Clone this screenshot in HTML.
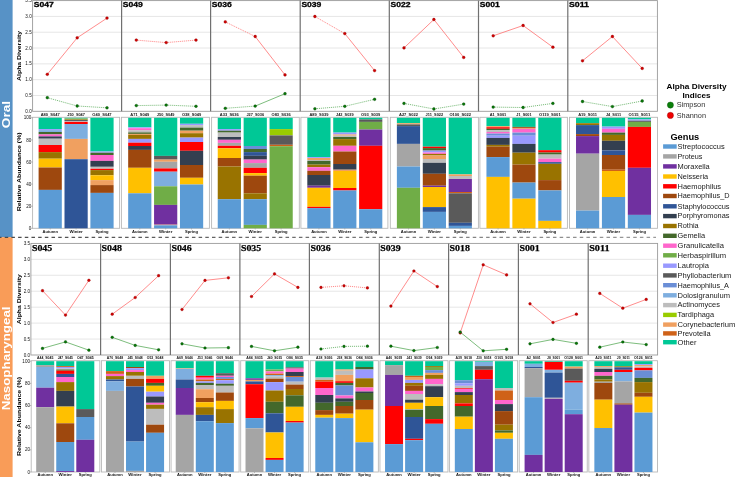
<!DOCTYPE html>
<html><head><meta charset="utf-8"><style>
html,body{margin:0;padding:0;background:#fff;width:735px;height:477px;overflow:hidden}
svg{display:block;font-family:"Liberation Sans", sans-serif;will-change:transform}
</style></head><body>
<svg width="735" height="477" viewBox="0 0 735 477">
<rect width="735" height="477" fill="#fff"/>
<rect x="0" y="0" width="12.6" height="237.2" fill="#5792C6"/>
<rect x="0" y="237.2" width="12.6" height="239.8" fill="#F99C58"/>
<text transform="translate(10.0,114.5) rotate(-90)" font-size="11.6" font-weight="bold" fill="#fff" text-anchor="middle" textLength="27.29" lengthAdjust="spacingAndGlyphs">Oral</text>
<text transform="translate(10.0,358.4) rotate(-90)" font-size="11.6" font-weight="bold" fill="#fff" text-anchor="middle" textLength="103.78" lengthAdjust="spacingAndGlyphs">Nasopharyngeal</text>
<defs><linearGradient id="dg" gradientUnits="userSpaceOnUse" x1="0" y1="0" x2="656" y2="0"><stop offset="0" stop-color="#4a4a4a"/><stop offset="1" stop-color="#9a9a9a"/></linearGradient></defs>
<rect x="0" y="236.85" width="656" height="1.1" fill="none"/>
<line x1="0" y1="237.4" x2="656" y2="237.4" stroke="url(#dg)" stroke-width="1.1" stroke-dasharray="3.5 3.186" stroke-dashoffset="1.958"/>
<line x1="32.6" y1="16.41" x2="657.4" y2="16.41" stroke="#E3E3E3" stroke-width="0.9"/>
<line x1="32.6" y1="32.23" x2="657.4" y2="32.23" stroke="#E3E3E3" stroke-width="0.9"/>
<line x1="32.6" y1="48.04" x2="657.4" y2="48.04" stroke="#E3E3E3" stroke-width="0.9"/>
<line x1="32.6" y1="63.86" x2="657.4" y2="63.86" stroke="#E3E3E3" stroke-width="0.9"/>
<line x1="32.6" y1="79.67" x2="657.4" y2="79.67" stroke="#E3E3E3" stroke-width="0.9"/>
<line x1="32.6" y1="95.49" x2="657.4" y2="95.49" stroke="#E3E3E3" stroke-width="0.9"/>
<text x="31.7" y="112.9" font-size="4.6" text-anchor="end" fill="#111" textLength="6.36" lengthAdjust="spacingAndGlyphs">0.0</text>
<text x="31.7" y="97.09" font-size="4.6" text-anchor="end" fill="#111" textLength="6.36" lengthAdjust="spacingAndGlyphs">0.5</text>
<text x="31.7" y="81.27" font-size="4.6" text-anchor="end" fill="#111" textLength="6.36" lengthAdjust="spacingAndGlyphs">1.0</text>
<text x="31.7" y="65.46" font-size="4.6" text-anchor="end" fill="#111" textLength="6.36" lengthAdjust="spacingAndGlyphs">1.5</text>
<text x="31.7" y="49.64" font-size="4.6" text-anchor="end" fill="#111" textLength="6.36" lengthAdjust="spacingAndGlyphs">2.0</text>
<text x="31.7" y="33.83" font-size="4.6" text-anchor="end" fill="#111" textLength="6.36" lengthAdjust="spacingAndGlyphs">2.5</text>
<text x="31.7" y="18.01" font-size="4.6" text-anchor="end" fill="#111" textLength="6.36" lengthAdjust="spacingAndGlyphs">3.0</text>
<text x="31.7" y="2.2" font-size="4.6" text-anchor="end" fill="#111" textLength="6.36" lengthAdjust="spacingAndGlyphs">3.5</text>
<rect x="32.6" y="0.6" width="624.8" height="110.7" fill="none" stroke="#9a9a9a" stroke-width="0.9"/>
<line x1="121.6" y1="0.6" x2="121.6" y2="111.3" stroke="#707070" stroke-width="1.2"/>
<line x1="210.6" y1="0.6" x2="210.6" y2="111.3" stroke="#707070" stroke-width="1.2"/>
<line x1="300.2" y1="0.6" x2="300.2" y2="111.3" stroke="#707070" stroke-width="1.2"/>
<line x1="389.3" y1="0.6" x2="389.3" y2="111.3" stroke="#707070" stroke-width="1.2"/>
<line x1="478.5" y1="0.6" x2="478.5" y2="111.3" stroke="#707070" stroke-width="1.2"/>
<line x1="567.8" y1="0.6" x2="567.8" y2="111.3" stroke="#707070" stroke-width="1.2"/>
<text transform="translate(21.3,55.9) rotate(-90)" font-size="6.2" font-weight="bold" fill="#000" text-anchor="middle" textLength="50" lengthAdjust="spacingAndGlyphs">Alpha Diversity</text>
<line x1="47.3" y1="97.7" x2="77.2" y2="106" stroke="#45A045" stroke-width="0.7" stroke-dasharray="1.1 0.9"/>
<line x1="77.2" y1="106" x2="107" y2="107.8" stroke="#45A045" stroke-width="0.7" stroke-dasharray="1.1 0.9"/>
<line x1="47.3" y1="74.3" x2="77.2" y2="37.8" stroke="#FF5C5C" stroke-width="0.7"/>
<line x1="77.2" y1="37.8" x2="107" y2="18.1" stroke="#FF5C5C" stroke-width="0.7"/>
<circle cx="47.3" cy="74.3" r="1.4" fill="#D00000" stroke="#8a0000" stroke-width="0.35"/>
<circle cx="77.2" cy="37.8" r="1.4" fill="#D00000" stroke="#8a0000" stroke-width="0.35"/>
<circle cx="107" cy="18.1" r="1.4" fill="#D00000" stroke="#8a0000" stroke-width="0.35"/>
<circle cx="47.3" cy="97.7" r="1.4" fill="#087808" stroke="#034003" stroke-width="0.35"/>
<circle cx="77.2" cy="106" r="1.4" fill="#087808" stroke="#034003" stroke-width="0.35"/>
<circle cx="107" cy="107.8" r="1.4" fill="#087808" stroke="#034003" stroke-width="0.35"/>
<text x="33.8" y="7.3" font-size="7.48" font-weight="bold" text-anchor="start" fill="#000" textLength="19.99" lengthAdjust="spacingAndGlyphs" stroke="#000" stroke-width="0.3">S047</text>
<line x1="136.3" y1="105.6" x2="166.2" y2="105.1" stroke="#45A045" stroke-width="0.7" stroke-dasharray="1.1 0.9"/>
<line x1="166.2" y1="105.1" x2="196" y2="106.3" stroke="#45A045" stroke-width="0.7" stroke-dasharray="1.1 0.9"/>
<line x1="136.3" y1="40.1" x2="166.2" y2="42.6" stroke="#FF5C5C" stroke-width="0.7" stroke-dasharray="1.1 0.9"/>
<line x1="166.2" y1="42.6" x2="196" y2="40.1" stroke="#FF5C5C" stroke-width="0.7" stroke-dasharray="1.1 0.9"/>
<circle cx="136.3" cy="40.1" r="1.4" fill="#D00000" stroke="#8a0000" stroke-width="0.35"/>
<circle cx="166.2" cy="42.6" r="1.4" fill="#D00000" stroke="#8a0000" stroke-width="0.35"/>
<circle cx="196" cy="40.1" r="1.4" fill="#D00000" stroke="#8a0000" stroke-width="0.35"/>
<circle cx="136.3" cy="105.6" r="1.4" fill="#087808" stroke="#034003" stroke-width="0.35"/>
<circle cx="166.2" cy="105.1" r="1.4" fill="#087808" stroke="#034003" stroke-width="0.35"/>
<circle cx="196" cy="106.3" r="1.4" fill="#087808" stroke="#034003" stroke-width="0.35"/>
<text x="122.8" y="7.3" font-size="7.48" font-weight="bold" text-anchor="start" fill="#000" textLength="19.99" lengthAdjust="spacingAndGlyphs" stroke="#000" stroke-width="0.3">S049</text>
<line x1="225.3" y1="108.3" x2="255.2" y2="106.1" stroke="#45A045" stroke-width="0.7" stroke-dasharray="1.1 0.9"/>
<line x1="255.2" y1="106.1" x2="285" y2="93.7" stroke="#45A045" stroke-width="0.7"/>
<line x1="225.3" y1="21.9" x2="255.2" y2="36.5" stroke="#FF5C5C" stroke-width="0.7" stroke-dasharray="1.1 0.9"/>
<line x1="255.2" y1="36.5" x2="285" y2="74.9" stroke="#FF5C5C" stroke-width="0.7"/>
<circle cx="225.3" cy="21.9" r="1.4" fill="#D00000" stroke="#8a0000" stroke-width="0.35"/>
<circle cx="255.2" cy="36.5" r="1.4" fill="#D00000" stroke="#8a0000" stroke-width="0.35"/>
<circle cx="285" cy="74.9" r="1.4" fill="#D00000" stroke="#8a0000" stroke-width="0.35"/>
<circle cx="225.3" cy="108.3" r="1.4" fill="#087808" stroke="#034003" stroke-width="0.35"/>
<circle cx="255.2" cy="106.1" r="1.4" fill="#087808" stroke="#034003" stroke-width="0.35"/>
<circle cx="285" cy="93.7" r="1.4" fill="#087808" stroke="#034003" stroke-width="0.35"/>
<text x="211.8" y="7.3" font-size="7.48" font-weight="bold" text-anchor="start" fill="#000" textLength="19.99" lengthAdjust="spacingAndGlyphs" stroke="#000" stroke-width="0.3">S036</text>
<line x1="314.9" y1="108.8" x2="344.8" y2="106.3" stroke="#45A045" stroke-width="0.7" stroke-dasharray="1.1 0.9"/>
<line x1="344.8" y1="106.3" x2="374.6" y2="99.3" stroke="#45A045" stroke-width="0.7" stroke-dasharray="1.1 0.9"/>
<line x1="314.9" y1="16.5" x2="344.8" y2="33.6" stroke="#FF5C5C" stroke-width="0.7" stroke-dasharray="1.1 0.9"/>
<line x1="344.8" y1="33.6" x2="374.6" y2="70.6" stroke="#FF5C5C" stroke-width="0.7"/>
<circle cx="314.9" cy="16.5" r="1.4" fill="#D00000" stroke="#8a0000" stroke-width="0.35"/>
<circle cx="344.8" cy="33.6" r="1.4" fill="#D00000" stroke="#8a0000" stroke-width="0.35"/>
<circle cx="374.6" cy="70.6" r="1.4" fill="#D00000" stroke="#8a0000" stroke-width="0.35"/>
<circle cx="314.9" cy="108.8" r="1.4" fill="#087808" stroke="#034003" stroke-width="0.35"/>
<circle cx="344.8" cy="106.3" r="1.4" fill="#087808" stroke="#034003" stroke-width="0.35"/>
<circle cx="374.6" cy="99.3" r="1.4" fill="#087808" stroke="#034003" stroke-width="0.35"/>
<text x="301.4" y="7.3" font-size="7.48" font-weight="bold" text-anchor="start" fill="#000" textLength="19.99" lengthAdjust="spacingAndGlyphs" stroke="#000" stroke-width="0.3">S039</text>
<line x1="404" y1="103.4" x2="433.9" y2="109" stroke="#45A045" stroke-width="0.7" stroke-dasharray="1.1 0.9"/>
<line x1="433.9" y1="109" x2="463.7" y2="104.1" stroke="#45A045" stroke-width="0.7" stroke-dasharray="1.1 0.9"/>
<line x1="404" y1="47.9" x2="433.9" y2="19.5" stroke="#FF5C5C" stroke-width="0.7"/>
<line x1="433.9" y1="19.5" x2="463.7" y2="57.4" stroke="#FF5C5C" stroke-width="0.7"/>
<circle cx="404" cy="47.9" r="1.4" fill="#D00000" stroke="#8a0000" stroke-width="0.35"/>
<circle cx="433.9" cy="19.5" r="1.4" fill="#D00000" stroke="#8a0000" stroke-width="0.35"/>
<circle cx="463.7" cy="57.4" r="1.4" fill="#D00000" stroke="#8a0000" stroke-width="0.35"/>
<circle cx="404" cy="103.4" r="1.4" fill="#087808" stroke="#034003" stroke-width="0.35"/>
<circle cx="433.9" cy="109" r="1.4" fill="#087808" stroke="#034003" stroke-width="0.35"/>
<circle cx="463.7" cy="104.1" r="1.4" fill="#087808" stroke="#034003" stroke-width="0.35"/>
<text x="390.5" y="7.3" font-size="7.48" font-weight="bold" text-anchor="start" fill="#000" textLength="19.99" lengthAdjust="spacingAndGlyphs" stroke="#000" stroke-width="0.3">S022</text>
<line x1="493.2" y1="107.1" x2="523.1" y2="107.5" stroke="#45A045" stroke-width="0.7" stroke-dasharray="1.1 0.9"/>
<line x1="523.1" y1="107.5" x2="552.9" y2="103.4" stroke="#45A045" stroke-width="0.7" stroke-dasharray="1.1 0.9"/>
<line x1="493.2" y1="35.8" x2="523.1" y2="25.5" stroke="#FF5C5C" stroke-width="0.7"/>
<line x1="523.1" y1="25.5" x2="552.9" y2="47.2" stroke="#FF5C5C" stroke-width="0.7"/>
<circle cx="493.2" cy="35.8" r="1.4" fill="#D00000" stroke="#8a0000" stroke-width="0.35"/>
<circle cx="523.1" cy="25.5" r="1.4" fill="#D00000" stroke="#8a0000" stroke-width="0.35"/>
<circle cx="552.9" cy="47.2" r="1.4" fill="#D00000" stroke="#8a0000" stroke-width="0.35"/>
<circle cx="493.2" cy="107.1" r="1.4" fill="#087808" stroke="#034003" stroke-width="0.35"/>
<circle cx="523.1" cy="107.5" r="1.4" fill="#087808" stroke="#034003" stroke-width="0.35"/>
<circle cx="552.9" cy="103.4" r="1.4" fill="#087808" stroke="#034003" stroke-width="0.35"/>
<text x="479.7" y="7.3" font-size="7.48" font-weight="bold" text-anchor="start" fill="#000" textLength="19.99" lengthAdjust="spacingAndGlyphs" stroke="#000" stroke-width="0.3">S001</text>
<line x1="582.5" y1="101.5" x2="612.4" y2="106.6" stroke="#45A045" stroke-width="0.7" stroke-dasharray="1.1 0.9"/>
<line x1="612.4" y1="106.6" x2="642.2" y2="101" stroke="#45A045" stroke-width="0.7" stroke-dasharray="1.1 0.9"/>
<line x1="582.5" y1="60.8" x2="612.4" y2="36.5" stroke="#FF5C5C" stroke-width="0.7"/>
<line x1="612.4" y1="36.5" x2="642.2" y2="68.4" stroke="#FF5C5C" stroke-width="0.7"/>
<circle cx="582.5" cy="60.8" r="1.4" fill="#D00000" stroke="#8a0000" stroke-width="0.35"/>
<circle cx="612.4" cy="36.5" r="1.4" fill="#D00000" stroke="#8a0000" stroke-width="0.35"/>
<circle cx="642.2" cy="68.4" r="1.4" fill="#D00000" stroke="#8a0000" stroke-width="0.35"/>
<circle cx="582.5" cy="101.5" r="1.4" fill="#087808" stroke="#034003" stroke-width="0.35"/>
<circle cx="612.4" cy="106.6" r="1.4" fill="#087808" stroke="#034003" stroke-width="0.35"/>
<circle cx="642.2" cy="101" r="1.4" fill="#087808" stroke="#034003" stroke-width="0.35"/>
<text x="569" y="7.3" font-size="7.48" font-weight="bold" text-anchor="start" fill="#000" textLength="19.99" lengthAdjust="spacingAndGlyphs" stroke="#000" stroke-width="0.3">S011</text>
<text x="50.2" y="115.8" font-size="3.64" font-weight="bold" text-anchor="middle" fill="#111" textLength="18.99" lengthAdjust="spacingAndGlyphs">A80_S047</text>
<text x="76.1" y="115.8" font-size="3.64" font-weight="bold" text-anchor="middle" fill="#111" textLength="17.6" lengthAdjust="spacingAndGlyphs">J50_S047</text>
<text x="102" y="115.8" font-size="3.64" font-weight="bold" text-anchor="middle" fill="#111" textLength="19.26" lengthAdjust="spacingAndGlyphs">O40_S047</text>
<text x="139.77" y="115.8" font-size="3.64" font-weight="bold" text-anchor="middle" fill="#111" textLength="18.99" lengthAdjust="spacingAndGlyphs">A71_S049</text>
<text x="165.67" y="115.8" font-size="3.64" font-weight="bold" text-anchor="middle" fill="#111" textLength="17.6" lengthAdjust="spacingAndGlyphs">J50_S049</text>
<text x="191.57" y="115.8" font-size="3.64" font-weight="bold" text-anchor="middle" fill="#111" textLength="19.26" lengthAdjust="spacingAndGlyphs">O38_S049</text>
<text x="229.34" y="115.8" font-size="3.64" font-weight="bold" text-anchor="middle" fill="#111" textLength="18.99" lengthAdjust="spacingAndGlyphs">A33_S036</text>
<text x="255.24" y="115.8" font-size="3.64" font-weight="bold" text-anchor="middle" fill="#111" textLength="17.6" lengthAdjust="spacingAndGlyphs">J27_S036</text>
<text x="281.14" y="115.8" font-size="3.64" font-weight="bold" text-anchor="middle" fill="#111" textLength="19.26" lengthAdjust="spacingAndGlyphs">O83_S036</text>
<text x="318.91" y="115.8" font-size="3.64" font-weight="bold" text-anchor="middle" fill="#111" textLength="18.99" lengthAdjust="spacingAndGlyphs">A89_S039</text>
<text x="344.81" y="115.8" font-size="3.64" font-weight="bold" text-anchor="middle" fill="#111" textLength="17.6" lengthAdjust="spacingAndGlyphs">J42_S039</text>
<text x="370.71" y="115.8" font-size="3.64" font-weight="bold" text-anchor="middle" fill="#111" textLength="19.26" lengthAdjust="spacingAndGlyphs">O93_S039</text>
<text x="408.48" y="115.8" font-size="3.64" font-weight="bold" text-anchor="middle" fill="#111" textLength="18.99" lengthAdjust="spacingAndGlyphs">A27_S022</text>
<text x="434.38" y="115.8" font-size="3.64" font-weight="bold" text-anchor="middle" fill="#111" textLength="17.6" lengthAdjust="spacingAndGlyphs">J11_S022</text>
<text x="460.28" y="115.8" font-size="3.64" font-weight="bold" text-anchor="middle" fill="#111" textLength="21.67" lengthAdjust="spacingAndGlyphs">O100_S022</text>
<text x="498.05" y="115.8" font-size="3.64" font-weight="bold" text-anchor="middle" fill="#111" textLength="16.58" lengthAdjust="spacingAndGlyphs">A1_S001</text>
<text x="523.95" y="115.8" font-size="3.64" font-weight="bold" text-anchor="middle" fill="#111" textLength="15.18" lengthAdjust="spacingAndGlyphs">J1_S001</text>
<text x="549.85" y="115.8" font-size="3.64" font-weight="bold" text-anchor="middle" fill="#111" textLength="21.67" lengthAdjust="spacingAndGlyphs">O119_S001</text>
<text x="587.62" y="115.8" font-size="3.64" font-weight="bold" text-anchor="middle" fill="#111" textLength="18.99" lengthAdjust="spacingAndGlyphs">A19_S011</text>
<text x="613.52" y="115.8" font-size="3.64" font-weight="bold" text-anchor="middle" fill="#111" textLength="15.18" lengthAdjust="spacingAndGlyphs">J4_S011</text>
<text x="639.42" y="115.8" font-size="3.64" font-weight="bold" text-anchor="middle" fill="#111" textLength="21.67" lengthAdjust="spacingAndGlyphs">O115_S011</text>
<rect x="32.6" y="117.3" width="87" height="111" fill="none" stroke="#b8b8b8" stroke-width="0.9"/>
<rect x="121.4" y="117.3" width="88" height="111" fill="none" stroke="#b8b8b8" stroke-width="0.9"/>
<rect x="211.6" y="117.3" width="87.7" height="111" fill="none" stroke="#b8b8b8" stroke-width="0.9"/>
<rect x="300.9" y="117.3" width="87" height="111" fill="none" stroke="#b8b8b8" stroke-width="0.9"/>
<rect x="390.3" y="117.3" width="88.1" height="111" fill="none" stroke="#b8b8b8" stroke-width="0.9"/>
<rect x="479.9" y="117.3" width="87.5" height="111" fill="none" stroke="#b8b8b8" stroke-width="0.9"/>
<rect x="569.5" y="117.3" width="88" height="111" fill="none" stroke="#b8b8b8" stroke-width="0.9"/>
<text x="31.3" y="229.9" font-size="4.6" text-anchor="end" fill="#111" textLength="2.54" lengthAdjust="spacingAndGlyphs">0</text>
<line x1="31.1" y1="228.3" x2="32.6" y2="228.3" stroke="#888" stroke-width="0.6"/>
<text x="31.3" y="207.8" font-size="4.6" text-anchor="end" fill="#111" textLength="5.09" lengthAdjust="spacingAndGlyphs">20</text>
<line x1="31.1" y1="206.2" x2="32.6" y2="206.2" stroke="#888" stroke-width="0.6"/>
<text x="31.3" y="185.7" font-size="4.6" text-anchor="end" fill="#111" textLength="5.09" lengthAdjust="spacingAndGlyphs">40</text>
<line x1="31.1" y1="184.1" x2="32.6" y2="184.1" stroke="#888" stroke-width="0.6"/>
<text x="31.3" y="163.6" font-size="4.6" text-anchor="end" fill="#111" textLength="5.09" lengthAdjust="spacingAndGlyphs">60</text>
<line x1="31.1" y1="162" x2="32.6" y2="162" stroke="#888" stroke-width="0.6"/>
<text x="31.3" y="141.5" font-size="4.6" text-anchor="end" fill="#111" textLength="5.09" lengthAdjust="spacingAndGlyphs">80</text>
<line x1="31.1" y1="139.9" x2="32.6" y2="139.9" stroke="#888" stroke-width="0.6"/>
<text x="31.3" y="119.4" font-size="4.6" text-anchor="end" fill="#111" textLength="7.63" lengthAdjust="spacingAndGlyphs">100</text>
<line x1="31.1" y1="117.8" x2="32.6" y2="117.8" stroke="#888" stroke-width="0.6"/>
<text transform="translate(21.3,171.8) rotate(-90)" font-size="6.2" font-weight="bold" fill="#000" text-anchor="middle" textLength="79" lengthAdjust="spacingAndGlyphs">Relative Abundance (%)</text>
<rect x="38.6" y="117.8" width="23.2" height="11.3" fill="#00C896"/>
<rect x="38.6" y="129.1" width="23.2" height="1" fill="#9999FF"/>
<rect x="38.6" y="130.1" width="23.2" height="1.9" fill="#7EAEDF"/>
<rect x="38.6" y="132" width="23.2" height="2.4" fill="#43682B"/>
<rect x="38.6" y="134.4" width="23.2" height="2" fill="#FF66CC"/>
<rect x="38.6" y="136.4" width="23.2" height="2.3" fill="#333F50"/>
<rect x="38.6" y="138.7" width="23.2" height="6.3" fill="#BDBDBD"/>
<rect x="38.6" y="145" width="23.2" height="7.1" fill="#FF0000"/>
<rect x="38.6" y="152.1" width="23.2" height="6.6" fill="#997300"/>
<rect x="38.6" y="158.7" width="23.2" height="8.8" fill="#FFC000"/>
<rect x="38.6" y="167.5" width="23.2" height="22.4" fill="#9E480E"/>
<rect x="38.6" y="189.9" width="23.2" height="38.4" fill="#5B9BD5"/>
<text x="50.2" y="233" font-size="3.68" font-weight="bold" text-anchor="middle" fill="#111" textLength="15.5" lengthAdjust="spacingAndGlyphs">Autumn</text>
<line x1="50.2" y1="228.3" x2="50.2" y2="229.5" stroke="#888" stroke-width="0.5"/>
<rect x="64.5" y="117.8" width="23.2" height="0.7" fill="#00C896"/>
<rect x="64.5" y="118.5" width="23.2" height="0.9" fill="#70AD47"/>
<rect x="64.5" y="119.4" width="23.2" height="0.8" fill="#997300"/>
<rect x="64.5" y="120.2" width="23.2" height="1" fill="#333F50"/>
<rect x="64.5" y="121.2" width="23.2" height="0.7" fill="#BDBDBD"/>
<rect x="64.5" y="121.9" width="23.2" height="2.1" fill="#FF0000"/>
<rect x="64.5" y="124" width="23.2" height="14.9" fill="#7EAEDF"/>
<rect x="64.5" y="138.9" width="23.2" height="20.3" fill="#F0A060"/>
<rect x="64.5" y="159.2" width="23.2" height="69.1" fill="#2F5597"/>
<text x="76.1" y="233" font-size="3.68" font-weight="bold" text-anchor="middle" fill="#111" textLength="13.33" lengthAdjust="spacingAndGlyphs">Winter</text>
<line x1="76.1" y1="228.3" x2="76.1" y2="229.5" stroke="#888" stroke-width="0.5"/>
<rect x="90.4" y="117.8" width="23.2" height="33.7" fill="#00C896"/>
<rect x="90.4" y="151.5" width="23.2" height="1.2" fill="#9999FF"/>
<rect x="90.4" y="152.7" width="23.2" height="2.3" fill="#43682B"/>
<rect x="90.4" y="155" width="23.2" height="5.9" fill="#FF66CC"/>
<rect x="90.4" y="160.9" width="23.2" height="5.9" fill="#333F50"/>
<rect x="90.4" y="166.8" width="23.2" height="2" fill="#BDBDBD"/>
<rect x="90.4" y="168.8" width="23.2" height="1.3" fill="#FF0000"/>
<rect x="90.4" y="170.1" width="23.2" height="5.2" fill="#997300"/>
<rect x="90.4" y="175.3" width="23.2" height="4.8" fill="#FFC000"/>
<rect x="90.4" y="180.1" width="23.2" height="5" fill="#F0A060"/>
<rect x="90.4" y="185.1" width="23.2" height="7.8" fill="#9E480E"/>
<rect x="90.4" y="192.9" width="23.2" height="35.4" fill="#5B9BD5"/>
<text x="102" y="233" font-size="3.68" font-weight="bold" text-anchor="middle" fill="#111" textLength="12.95" lengthAdjust="spacingAndGlyphs">Spring</text>
<line x1="102" y1="228.3" x2="102" y2="229.5" stroke="#888" stroke-width="0.5"/>
<rect x="128.17" y="117.8" width="23.2" height="9.5" fill="#00C896"/>
<rect x="128.17" y="127.3" width="23.2" height="0.9" fill="#9999FF"/>
<rect x="128.17" y="128.2" width="23.2" height="2.1" fill="#FF66CC"/>
<rect x="128.17" y="130.3" width="23.2" height="2.1" fill="#BDBDBD"/>
<rect x="128.17" y="132.4" width="23.2" height="1.5" fill="#43682B"/>
<rect x="128.17" y="133.9" width="23.2" height="1" fill="#F0A060"/>
<rect x="128.17" y="134.9" width="23.2" height="4" fill="#997300"/>
<rect x="128.17" y="138.9" width="23.2" height="3.8" fill="#9999FF"/>
<rect x="128.17" y="142.7" width="23.2" height="3.3" fill="#FF0000"/>
<rect x="128.17" y="146" width="23.2" height="3.9" fill="#333F50"/>
<rect x="128.17" y="149.9" width="23.2" height="17.9" fill="#9E480E"/>
<rect x="128.17" y="167.8" width="23.2" height="25.5" fill="#FFC000"/>
<rect x="128.17" y="193.3" width="23.2" height="35" fill="#5B9BD5"/>
<text x="139.77" y="233" font-size="3.68" font-weight="bold" text-anchor="middle" fill="#111" textLength="15.5" lengthAdjust="spacingAndGlyphs">Autumn</text>
<line x1="139.77" y1="228.3" x2="139.77" y2="229.5" stroke="#888" stroke-width="0.5"/>
<rect x="154.07" y="117.8" width="23.2" height="38.1" fill="#00C896"/>
<rect x="154.07" y="155.9" width="23.2" height="3.7" fill="#5A5A5A"/>
<rect x="154.07" y="159.6" width="23.2" height="2.2" fill="#F0A060"/>
<rect x="154.07" y="161.8" width="23.2" height="6.6" fill="#A5A5A5"/>
<rect x="154.07" y="168.4" width="23.2" height="3.3" fill="#FF0000"/>
<rect x="154.07" y="171.7" width="23.2" height="14.6" fill="#7EAEDF"/>
<rect x="154.07" y="186.3" width="23.2" height="18.6" fill="#70AD47"/>
<rect x="154.07" y="204.9" width="23.2" height="19.8" fill="#7030A0"/>
<rect x="154.07" y="224.7" width="23.2" height="0.6" fill="#F0A060"/>
<rect x="154.07" y="225.3" width="23.2" height="3" fill="#5B9BD5"/>
<text x="165.67" y="233" font-size="3.68" font-weight="bold" text-anchor="middle" fill="#111" textLength="13.33" lengthAdjust="spacingAndGlyphs">Winter</text>
<line x1="165.67" y1="228.3" x2="165.67" y2="229.5" stroke="#888" stroke-width="0.5"/>
<rect x="179.97" y="117.8" width="23.2" height="6" fill="#00C896"/>
<rect x="179.97" y="123.8" width="23.2" height="1.3" fill="#9999FF"/>
<rect x="179.97" y="125.1" width="23.2" height="2.5" fill="#BDBDBD"/>
<rect x="179.97" y="127.6" width="23.2" height="3.1" fill="#43682B"/>
<rect x="179.97" y="130.7" width="23.2" height="2.5" fill="#F0A060"/>
<rect x="179.97" y="133.2" width="23.2" height="4.4" fill="#997300"/>
<rect x="179.97" y="137.6" width="23.2" height="4.4" fill="#9999FF"/>
<rect x="179.97" y="142" width="23.2" height="8.8" fill="#FF0000"/>
<rect x="179.97" y="150.8" width="23.2" height="14.2" fill="#333F50"/>
<rect x="179.97" y="165" width="23.2" height="12.8" fill="#9E480E"/>
<rect x="179.97" y="177.8" width="23.2" height="6.7" fill="#FFC000"/>
<rect x="179.97" y="184.5" width="23.2" height="43.8" fill="#5B9BD5"/>
<text x="191.57" y="233" font-size="3.68" font-weight="bold" text-anchor="middle" fill="#111" textLength="12.95" lengthAdjust="spacingAndGlyphs">Spring</text>
<line x1="191.57" y1="228.3" x2="191.57" y2="229.5" stroke="#888" stroke-width="0.5"/>
<rect x="217.74" y="117.8" width="23.2" height="11.3" fill="#00C896"/>
<rect x="217.74" y="129.1" width="23.2" height="1.6" fill="#9999FF"/>
<rect x="217.74" y="130.7" width="23.2" height="1.9" fill="#43682B"/>
<rect x="217.74" y="132.6" width="23.2" height="4.4" fill="#BDBDBD"/>
<rect x="217.74" y="137" width="23.2" height="2.8" fill="#333F50"/>
<rect x="217.74" y="139.8" width="23.2" height="3.1" fill="#FF66CC"/>
<rect x="217.74" y="142.9" width="23.2" height="2.9" fill="#A5A5A5"/>
<rect x="217.74" y="145.8" width="23.2" height="2.5" fill="#FF0000"/>
<rect x="217.74" y="148.3" width="23.2" height="9.7" fill="#FFC000"/>
<rect x="217.74" y="158" width="23.2" height="8.5" fill="#9E480E"/>
<rect x="217.74" y="166.5" width="23.2" height="32.7" fill="#997300"/>
<rect x="217.74" y="199.2" width="23.2" height="29.1" fill="#5B9BD5"/>
<text x="229.34" y="233" font-size="3.68" font-weight="bold" text-anchor="middle" fill="#111" textLength="15.5" lengthAdjust="spacingAndGlyphs">Autumn</text>
<line x1="229.34" y1="228.3" x2="229.34" y2="229.5" stroke="#888" stroke-width="0.5"/>
<rect x="243.64" y="117.8" width="23.2" height="28.2" fill="#00C896"/>
<rect x="243.64" y="146" width="23.2" height="3" fill="#6A8ED6"/>
<rect x="243.64" y="149" width="23.2" height="3.1" fill="#43682B"/>
<rect x="243.64" y="152.1" width="23.2" height="3.7" fill="#2F5597"/>
<rect x="243.64" y="155.8" width="23.2" height="3.8" fill="#333F50"/>
<rect x="243.64" y="159.6" width="23.2" height="3.5" fill="#FF66CC"/>
<rect x="243.64" y="163.1" width="23.2" height="4.7" fill="#A5A5A5"/>
<rect x="243.64" y="167.8" width="23.2" height="5.3" fill="#FF0000"/>
<rect x="243.64" y="173.1" width="23.2" height="2.6" fill="#FFC000"/>
<rect x="243.64" y="175.7" width="23.2" height="17.6" fill="#9E480E"/>
<rect x="243.64" y="193.3" width="23.2" height="5.9" fill="#997300"/>
<rect x="243.64" y="199.2" width="23.2" height="25.7" fill="#5B9BD5"/>
<rect x="243.64" y="224.9" width="23.2" height="3.4" fill="#70AD47"/>
<text x="255.24" y="233" font-size="3.68" font-weight="bold" text-anchor="middle" fill="#111" textLength="13.33" lengthAdjust="spacingAndGlyphs">Winter</text>
<line x1="255.24" y1="228.3" x2="255.24" y2="229.5" stroke="#888" stroke-width="0.5"/>
<rect x="269.54" y="117.8" width="23.2" height="11.3" fill="#00C896"/>
<rect x="269.54" y="129.1" width="23.2" height="6.3" fill="#99CC00"/>
<rect x="269.54" y="135.4" width="23.2" height="9.4" fill="#5A5A5A"/>
<rect x="269.54" y="144.8" width="23.2" height="1.4" fill="#CF6218"/>
<rect x="269.54" y="146.2" width="23.2" height="82.1" fill="#70AD47"/>
<text x="281.14" y="233" font-size="3.68" font-weight="bold" text-anchor="middle" fill="#111" textLength="12.95" lengthAdjust="spacingAndGlyphs">Spring</text>
<line x1="281.14" y1="228.3" x2="281.14" y2="229.5" stroke="#888" stroke-width="0.5"/>
<rect x="307.31" y="117.8" width="23.2" height="39.3" fill="#00C896"/>
<rect x="307.31" y="157.1" width="23.2" height="0.9" fill="#9999FF"/>
<rect x="307.31" y="158" width="23.2" height="2" fill="#F0A060"/>
<rect x="307.31" y="160" width="23.2" height="0.9" fill="#BDBDBD"/>
<rect x="307.31" y="160.9" width="23.2" height="3.7" fill="#43682B"/>
<rect x="307.31" y="164.6" width="23.2" height="2.6" fill="#997300"/>
<rect x="307.31" y="167.2" width="23.2" height="3.6" fill="#FF66CC"/>
<rect x="307.31" y="170.8" width="23.2" height="4.2" fill="#9E480E"/>
<rect x="307.31" y="175" width="23.2" height="10.7" fill="#333F50"/>
<rect x="307.31" y="185.7" width="23.2" height="2.1" fill="#7030A0"/>
<rect x="307.31" y="187.8" width="23.2" height="19" fill="#FFC000"/>
<rect x="307.31" y="206.8" width="23.2" height="1.3" fill="#FF0000"/>
<rect x="307.31" y="208.1" width="23.2" height="20.2" fill="#5B9BD5"/>
<text x="318.91" y="233" font-size="3.68" font-weight="bold" text-anchor="middle" fill="#111" textLength="15.5" lengthAdjust="spacingAndGlyphs">Autumn</text>
<line x1="318.91" y1="228.3" x2="318.91" y2="229.5" stroke="#888" stroke-width="0.5"/>
<rect x="333.21" y="117.8" width="23.2" height="14.8" fill="#00C896"/>
<rect x="333.21" y="132.6" width="23.2" height="1.9" fill="#9999FF"/>
<rect x="333.21" y="134.5" width="23.2" height="1.2" fill="#F0A060"/>
<rect x="333.21" y="135.7" width="23.2" height="1.3" fill="#BDBDBD"/>
<rect x="333.21" y="137" width="23.2" height="2.1" fill="#43682B"/>
<rect x="333.21" y="139.1" width="23.2" height="6.7" fill="#997300"/>
<rect x="333.21" y="145.8" width="23.2" height="5.7" fill="#FF66CC"/>
<rect x="333.21" y="151.5" width="23.2" height="12.5" fill="#9E480E"/>
<rect x="333.21" y="164" width="23.2" height="5.7" fill="#333F50"/>
<rect x="333.21" y="169.7" width="23.2" height="1.3" fill="#F0A060"/>
<rect x="333.21" y="171" width="23.2" height="17" fill="#FFC000"/>
<rect x="333.21" y="188" width="23.2" height="2.5" fill="#FF0000"/>
<rect x="333.21" y="190.5" width="23.2" height="37.8" fill="#5B9BD5"/>
<text x="344.81" y="233" font-size="3.68" font-weight="bold" text-anchor="middle" fill="#111" textLength="13.33" lengthAdjust="spacingAndGlyphs">Winter</text>
<line x1="344.81" y1="228.3" x2="344.81" y2="229.5" stroke="#888" stroke-width="0.5"/>
<rect x="359.11" y="117.8" width="23.2" height="1.6" fill="#00C896"/>
<rect x="359.11" y="119.4" width="23.2" height="2.5" fill="#5A5A5A"/>
<rect x="359.11" y="121.9" width="23.2" height="7.6" fill="#70AD47"/>
<rect x="359.11" y="129.5" width="23.2" height="16.3" fill="#7030A0"/>
<rect x="359.11" y="145.8" width="23.2" height="63.4" fill="#FF0000"/>
<rect x="359.11" y="209.2" width="23.2" height="19.1" fill="#5B9BD5"/>
<text x="370.71" y="233" font-size="3.68" font-weight="bold" text-anchor="middle" fill="#111" textLength="12.95" lengthAdjust="spacingAndGlyphs">Spring</text>
<line x1="370.71" y1="228.3" x2="370.71" y2="229.5" stroke="#888" stroke-width="0.5"/>
<rect x="396.88" y="117.8" width="23.2" height="5.4" fill="#00C896"/>
<rect x="396.88" y="123.2" width="23.2" height="1.2" fill="#F0A060"/>
<rect x="396.88" y="124.4" width="23.2" height="1.7" fill="#5A5A5A"/>
<rect x="396.88" y="126.1" width="23.2" height="17.8" fill="#2F5597"/>
<rect x="396.88" y="143.9" width="23.2" height="22.6" fill="#A5A5A5"/>
<rect x="396.88" y="166.5" width="23.2" height="21.3" fill="#5B9BD5"/>
<rect x="396.88" y="187.8" width="23.2" height="40.5" fill="#70AD47"/>
<text x="408.48" y="233" font-size="3.68" font-weight="bold" text-anchor="middle" fill="#111" textLength="15.5" lengthAdjust="spacingAndGlyphs">Autumn</text>
<line x1="408.48" y1="228.3" x2="408.48" y2="229.5" stroke="#888" stroke-width="0.5"/>
<rect x="422.78" y="117.8" width="23.2" height="28.9" fill="#00C896"/>
<rect x="422.78" y="146.7" width="23.2" height="1.4" fill="#FF0000"/>
<rect x="422.78" y="148.1" width="23.2" height="2.5" fill="#43682B"/>
<rect x="422.78" y="150.6" width="23.2" height="1.9" fill="#9999FF"/>
<rect x="422.78" y="152.5" width="23.2" height="1.4" fill="#FF66CC"/>
<rect x="422.78" y="153.9" width="23.2" height="1.6" fill="#997300"/>
<rect x="422.78" y="155.5" width="23.2" height="3.5" fill="#F0A060"/>
<rect x="422.78" y="159" width="23.2" height="3.8" fill="#BDBDBD"/>
<rect x="422.78" y="162.8" width="23.2" height="11" fill="#333F50"/>
<rect x="422.78" y="173.8" width="23.2" height="11.9" fill="#9E480E"/>
<rect x="422.78" y="185.7" width="23.2" height="1.3" fill="#7030A0"/>
<rect x="422.78" y="187" width="23.2" height="20.1" fill="#FFC000"/>
<rect x="422.78" y="207.1" width="23.2" height="4.8" fill="#2F5597"/>
<rect x="422.78" y="211.9" width="23.2" height="16.4" fill="#5B9BD5"/>
<text x="434.38" y="233" font-size="3.68" font-weight="bold" text-anchor="middle" fill="#111" textLength="13.33" lengthAdjust="spacingAndGlyphs">Winter</text>
<line x1="434.38" y1="228.3" x2="434.38" y2="229.5" stroke="#888" stroke-width="0.5"/>
<rect x="448.68" y="117.8" width="23.2" height="56.6" fill="#00C896"/>
<rect x="448.68" y="174.4" width="23.2" height="1.6" fill="#F0A060"/>
<rect x="448.68" y="176" width="23.2" height="3" fill="#BDBDBD"/>
<rect x="448.68" y="179" width="23.2" height="13" fill="#7030A0"/>
<rect x="448.68" y="192" width="23.2" height="1.3" fill="#CF6218"/>
<rect x="448.68" y="193.3" width="23.2" height="29.5" fill="#5A5A5A"/>
<rect x="448.68" y="222.8" width="23.2" height="3.1" fill="#2F5597"/>
<rect x="448.68" y="225.9" width="23.2" height="2.4" fill="#5B9BD5"/>
<text x="460.28" y="233" font-size="3.68" font-weight="bold" text-anchor="middle" fill="#111" textLength="12.95" lengthAdjust="spacingAndGlyphs">Spring</text>
<line x1="460.28" y1="228.3" x2="460.28" y2="229.5" stroke="#888" stroke-width="0.5"/>
<rect x="486.45" y="117.8" width="23.2" height="8.3" fill="#00C896"/>
<rect x="486.45" y="126.1" width="23.2" height="1.1" fill="#F0A060"/>
<rect x="486.45" y="127.2" width="23.2" height="1.6" fill="#FF0000"/>
<rect x="486.45" y="128.8" width="23.2" height="1.3" fill="#43682B"/>
<rect x="486.45" y="130.1" width="23.2" height="1.9" fill="#BDBDBD"/>
<rect x="486.45" y="132" width="23.2" height="1.6" fill="#FF66CC"/>
<rect x="486.45" y="133.6" width="23.2" height="2.1" fill="#6A8ED6"/>
<rect x="486.45" y="135.7" width="23.2" height="2.2" fill="#9999FF"/>
<rect x="486.45" y="137.9" width="23.2" height="7" fill="#333F50"/>
<rect x="486.45" y="144.9" width="23.2" height="1.8" fill="#997300"/>
<rect x="486.45" y="146.7" width="23.2" height="10.4" fill="#9E480E"/>
<rect x="486.45" y="157.1" width="23.2" height="19.8" fill="#5B9BD5"/>
<rect x="486.45" y="176.9" width="23.2" height="51.4" fill="#FFC000"/>
<text x="498.05" y="233" font-size="3.68" font-weight="bold" text-anchor="middle" fill="#111" textLength="15.5" lengthAdjust="spacingAndGlyphs">Autumn</text>
<line x1="498.05" y1="228.3" x2="498.05" y2="229.5" stroke="#888" stroke-width="0.5"/>
<rect x="512.35" y="117.8" width="23.2" height="9.1" fill="#00C896"/>
<rect x="512.35" y="126.9" width="23.2" height="1" fill="#9E480E"/>
<rect x="512.35" y="127.9" width="23.2" height="1" fill="#F0A060"/>
<rect x="512.35" y="128.9" width="23.2" height="3.7" fill="#FF66CC"/>
<rect x="512.35" y="132.6" width="23.2" height="3.1" fill="#6A8ED6"/>
<rect x="512.35" y="135.7" width="23.2" height="8.2" fill="#9999FF"/>
<rect x="512.35" y="143.9" width="23.2" height="8.8" fill="#333F50"/>
<rect x="512.35" y="152.7" width="23.2" height="11.9" fill="#997300"/>
<rect x="512.35" y="164.6" width="23.2" height="18" fill="#9E480E"/>
<rect x="512.35" y="182.6" width="23.2" height="16.1" fill="#5B9BD5"/>
<rect x="512.35" y="198.7" width="23.2" height="29.6" fill="#FFC000"/>
<text x="523.95" y="233" font-size="3.68" font-weight="bold" text-anchor="middle" fill="#111" textLength="13.33" lengthAdjust="spacingAndGlyphs">Winter</text>
<line x1="523.95" y1="228.3" x2="523.95" y2="229.5" stroke="#888" stroke-width="0.5"/>
<rect x="538.25" y="117.8" width="23.2" height="32.4" fill="#00C896"/>
<rect x="538.25" y="150.2" width="23.2" height="2.3" fill="#FF0000"/>
<rect x="538.25" y="152.5" width="23.2" height="2.1" fill="#43682B"/>
<rect x="538.25" y="154.6" width="23.2" height="4.1" fill="#BDBDBD"/>
<rect x="538.25" y="158.7" width="23.2" height="3.4" fill="#FF66CC"/>
<rect x="538.25" y="162.1" width="23.2" height="1.7" fill="#2F5597"/>
<rect x="538.25" y="163.8" width="23.2" height="16.3" fill="#997300"/>
<rect x="538.25" y="180.1" width="23.2" height="10.3" fill="#9E480E"/>
<rect x="538.25" y="190.4" width="23.2" height="30.5" fill="#5B9BD5"/>
<rect x="538.25" y="220.9" width="23.2" height="7.4" fill="#FFC000"/>
<text x="549.85" y="233" font-size="3.68" font-weight="bold" text-anchor="middle" fill="#111" textLength="12.95" lengthAdjust="spacingAndGlyphs">Spring</text>
<line x1="549.85" y1="228.3" x2="549.85" y2="229.5" stroke="#888" stroke-width="0.5"/>
<rect x="576.02" y="117.8" width="23.2" height="5.4" fill="#00C896"/>
<rect x="576.02" y="123.2" width="23.2" height="1.9" fill="#997300"/>
<rect x="576.02" y="125.1" width="23.2" height="9" fill="#2F5597"/>
<rect x="576.02" y="134.1" width="23.2" height="2" fill="#9E480E"/>
<rect x="576.02" y="136.1" width="23.2" height="17.6" fill="#7030A0"/>
<rect x="576.02" y="153.7" width="23.2" height="56.9" fill="#A5A5A5"/>
<rect x="576.02" y="210.6" width="23.2" height="17.7" fill="#5B9BD5"/>
<text x="587.62" y="233" font-size="3.68" font-weight="bold" text-anchor="middle" fill="#111" textLength="15.5" lengthAdjust="spacingAndGlyphs">Autumn</text>
<line x1="587.62" y1="228.3" x2="587.62" y2="229.5" stroke="#888" stroke-width="0.5"/>
<rect x="601.92" y="117.8" width="23.2" height="8.8" fill="#00C896"/>
<rect x="601.92" y="126.6" width="23.2" height="2.2" fill="#9999FF"/>
<rect x="601.92" y="128.8" width="23.2" height="3.8" fill="#FF66CC"/>
<rect x="601.92" y="132.6" width="23.2" height="2.3" fill="#43682B"/>
<rect x="601.92" y="134.9" width="23.2" height="5.9" fill="#997300"/>
<rect x="601.92" y="140.8" width="23.2" height="9.6" fill="#333F50"/>
<rect x="601.92" y="150.4" width="23.2" height="4.6" fill="#2F5597"/>
<rect x="601.92" y="155" width="23.2" height="14.7" fill="#9E480E"/>
<rect x="601.92" y="169.7" width="23.2" height="1.3" fill="#CF6218"/>
<rect x="601.92" y="171" width="23.2" height="26" fill="#FFC000"/>
<rect x="601.92" y="197" width="23.2" height="31.3" fill="#5B9BD5"/>
<text x="613.52" y="233" font-size="3.68" font-weight="bold" text-anchor="middle" fill="#111" textLength="13.33" lengthAdjust="spacingAndGlyphs">Winter</text>
<line x1="613.52" y1="228.3" x2="613.52" y2="229.5" stroke="#888" stroke-width="0.5"/>
<rect x="627.82" y="117.8" width="23.2" height="1.6" fill="#00C896"/>
<rect x="627.82" y="119.4" width="23.2" height="1.3" fill="#9999FF"/>
<rect x="627.82" y="120.7" width="23.2" height="1.2" fill="#5A5A5A"/>
<rect x="627.82" y="121.9" width="23.2" height="5" fill="#70AD47"/>
<rect x="627.82" y="126.9" width="23.2" height="40.9" fill="#FF0000"/>
<rect x="627.82" y="167.8" width="23.2" height="47.1" fill="#7030A0"/>
<rect x="627.82" y="214.9" width="23.2" height="13.4" fill="#5B9BD5"/>
<text x="639.42" y="233" font-size="3.68" font-weight="bold" text-anchor="middle" fill="#111" textLength="12.95" lengthAdjust="spacingAndGlyphs">Spring</text>
<line x1="639.42" y1="228.3" x2="639.42" y2="229.5" stroke="#888" stroke-width="0.5"/>
<line x1="30.9" y1="259.34" x2="657.6" y2="259.34" stroke="#E3E3E3" stroke-width="0.9"/>
<line x1="30.9" y1="275.29" x2="657.6" y2="275.29" stroke="#E3E3E3" stroke-width="0.9"/>
<line x1="30.9" y1="291.23" x2="657.6" y2="291.23" stroke="#E3E3E3" stroke-width="0.9"/>
<line x1="30.9" y1="307.17" x2="657.6" y2="307.17" stroke="#E3E3E3" stroke-width="0.9"/>
<line x1="30.9" y1="323.11" x2="657.6" y2="323.11" stroke="#E3E3E3" stroke-width="0.9"/>
<line x1="30.9" y1="339.06" x2="657.6" y2="339.06" stroke="#E3E3E3" stroke-width="0.9"/>
<text x="30" y="356.6" font-size="4.6" text-anchor="end" fill="#111" textLength="6.36" lengthAdjust="spacingAndGlyphs">0.0</text>
<text x="30" y="340.66" font-size="4.6" text-anchor="end" fill="#111" textLength="6.36" lengthAdjust="spacingAndGlyphs">0.5</text>
<text x="30" y="324.71" font-size="4.6" text-anchor="end" fill="#111" textLength="6.36" lengthAdjust="spacingAndGlyphs">1.0</text>
<text x="30" y="308.77" font-size="4.6" text-anchor="end" fill="#111" textLength="6.36" lengthAdjust="spacingAndGlyphs">1.5</text>
<text x="30" y="292.83" font-size="4.6" text-anchor="end" fill="#111" textLength="6.36" lengthAdjust="spacingAndGlyphs">2.0</text>
<text x="30" y="276.89" font-size="4.6" text-anchor="end" fill="#111" textLength="6.36" lengthAdjust="spacingAndGlyphs">2.5</text>
<text x="30" y="260.94" font-size="4.6" text-anchor="end" fill="#111" textLength="6.36" lengthAdjust="spacingAndGlyphs">3.0</text>
<text x="30" y="245" font-size="4.6" text-anchor="end" fill="#111" textLength="6.36" lengthAdjust="spacingAndGlyphs">3.5</text>
<rect x="30.9" y="243.4" width="626.7" height="111.6" fill="none" stroke="#9a9a9a" stroke-width="0.9"/>
<line x1="100.6" y1="243.4" x2="100.6" y2="355" stroke="#707070" stroke-width="1.2"/>
<line x1="170.4" y1="243.4" x2="170.4" y2="355" stroke="#707070" stroke-width="1.2"/>
<line x1="239.9" y1="243.4" x2="239.9" y2="355" stroke="#707070" stroke-width="1.2"/>
<line x1="309.4" y1="243.4" x2="309.4" y2="355" stroke="#707070" stroke-width="1.2"/>
<line x1="379.3" y1="243.4" x2="379.3" y2="355" stroke="#707070" stroke-width="1.2"/>
<line x1="448.6" y1="243.4" x2="448.6" y2="355" stroke="#707070" stroke-width="1.2"/>
<line x1="518.4" y1="243.4" x2="518.4" y2="355" stroke="#707070" stroke-width="1.2"/>
<line x1="588.2" y1="243.4" x2="588.2" y2="355" stroke="#707070" stroke-width="1.2"/>
<text transform="translate(21.3,299.2) rotate(-90)" font-size="6.2" font-weight="bold" fill="#000" text-anchor="middle" textLength="50" lengthAdjust="spacingAndGlyphs">Alpha Diversity</text>
<line x1="42.5" y1="348.4" x2="65.5" y2="341.9" stroke="#45A045" stroke-width="0.7"/>
<line x1="65.5" y1="341.9" x2="88.9" y2="350.2" stroke="#45A045" stroke-width="0.7"/>
<line x1="42.5" y1="290.7" x2="65.5" y2="315.1" stroke="#FF5C5C" stroke-width="0.7"/>
<line x1="65.5" y1="315.1" x2="88.9" y2="280.3" stroke="#FF5C5C" stroke-width="0.7"/>
<circle cx="42.5" cy="290.7" r="1.35" fill="#D00000" stroke="#8a0000" stroke-width="0.35"/>
<circle cx="65.5" cy="315.1" r="1.35" fill="#D00000" stroke="#8a0000" stroke-width="0.35"/>
<circle cx="88.9" cy="280.3" r="1.35" fill="#D00000" stroke="#8a0000" stroke-width="0.35"/>
<circle cx="42.5" cy="348.4" r="1.35" fill="#087808" stroke="#034003" stroke-width="0.35"/>
<circle cx="65.5" cy="341.9" r="1.35" fill="#087808" stroke="#034003" stroke-width="0.35"/>
<circle cx="88.9" cy="350.2" r="1.35" fill="#087808" stroke="#034003" stroke-width="0.35"/>
<text x="31.9" y="250.8" font-size="9" font-weight="bold" font-family="Liberation Serif, serif" fill="#000" textLength="20.4" lengthAdjust="spacingAndGlyphs" stroke="#000" stroke-width="0.25">S045</text>
<line x1="112.2" y1="337.3" x2="135.2" y2="345.4" stroke="#45A045" stroke-width="0.7"/>
<line x1="135.2" y1="345.4" x2="158.6" y2="349.8" stroke="#45A045" stroke-width="0.7"/>
<line x1="112.2" y1="314.2" x2="135.2" y2="297.5" stroke="#FF5C5C" stroke-width="0.7"/>
<line x1="135.2" y1="297.5" x2="158.6" y2="275.7" stroke="#FF5C5C" stroke-width="0.7"/>
<circle cx="112.2" cy="314.2" r="1.35" fill="#D00000" stroke="#8a0000" stroke-width="0.35"/>
<circle cx="135.2" cy="297.5" r="1.35" fill="#D00000" stroke="#8a0000" stroke-width="0.35"/>
<circle cx="158.6" cy="275.7" r="1.35" fill="#D00000" stroke="#8a0000" stroke-width="0.35"/>
<circle cx="112.2" cy="337.3" r="1.35" fill="#087808" stroke="#034003" stroke-width="0.35"/>
<circle cx="135.2" cy="345.4" r="1.35" fill="#087808" stroke="#034003" stroke-width="0.35"/>
<circle cx="158.6" cy="349.8" r="1.35" fill="#087808" stroke="#034003" stroke-width="0.35"/>
<text x="101.6" y="250.8" font-size="9" font-weight="bold" font-family="Liberation Serif, serif" fill="#000" textLength="20.4" lengthAdjust="spacingAndGlyphs" stroke="#000" stroke-width="0.25">S048</text>
<line x1="182" y1="343.8" x2="205" y2="348" stroke="#45A045" stroke-width="0.7"/>
<line x1="205" y1="348" x2="228.4" y2="347.7" stroke="#45A045" stroke-width="0.7"/>
<line x1="182" y1="309.5" x2="205" y2="280.4" stroke="#FF5C5C" stroke-width="0.7"/>
<line x1="205" y1="280.4" x2="228.4" y2="277.8" stroke="#FF5C5C" stroke-width="0.7"/>
<circle cx="182" cy="309.5" r="1.35" fill="#D00000" stroke="#8a0000" stroke-width="0.35"/>
<circle cx="205" cy="280.4" r="1.35" fill="#D00000" stroke="#8a0000" stroke-width="0.35"/>
<circle cx="228.4" cy="277.8" r="1.35" fill="#D00000" stroke="#8a0000" stroke-width="0.35"/>
<circle cx="182" cy="343.8" r="1.35" fill="#087808" stroke="#034003" stroke-width="0.35"/>
<circle cx="205" cy="348" r="1.35" fill="#087808" stroke="#034003" stroke-width="0.35"/>
<circle cx="228.4" cy="347.7" r="1.35" fill="#087808" stroke="#034003" stroke-width="0.35"/>
<text x="171.4" y="250.8" font-size="9" font-weight="bold" font-family="Liberation Serif, serif" fill="#000" textLength="20.4" lengthAdjust="spacingAndGlyphs" stroke="#000" stroke-width="0.25">S046</text>
<line x1="251.5" y1="346.4" x2="274.5" y2="350.8" stroke="#45A045" stroke-width="0.7"/>
<line x1="274.5" y1="350.8" x2="297.9" y2="347.2" stroke="#45A045" stroke-width="0.7"/>
<line x1="251.5" y1="296.5" x2="274.5" y2="273.9" stroke="#FF5C5C" stroke-width="0.7"/>
<line x1="274.5" y1="273.9" x2="297.9" y2="287.4" stroke="#FF5C5C" stroke-width="0.7"/>
<circle cx="251.5" cy="296.5" r="1.35" fill="#D00000" stroke="#8a0000" stroke-width="0.35"/>
<circle cx="274.5" cy="273.9" r="1.35" fill="#D00000" stroke="#8a0000" stroke-width="0.35"/>
<circle cx="297.9" cy="287.4" r="1.35" fill="#D00000" stroke="#8a0000" stroke-width="0.35"/>
<circle cx="251.5" cy="346.4" r="1.35" fill="#087808" stroke="#034003" stroke-width="0.35"/>
<circle cx="274.5" cy="350.8" r="1.35" fill="#087808" stroke="#034003" stroke-width="0.35"/>
<circle cx="297.9" cy="347.2" r="1.35" fill="#087808" stroke="#034003" stroke-width="0.35"/>
<text x="240.9" y="250.8" font-size="9" font-weight="bold" font-family="Liberation Serif, serif" fill="#000" textLength="20.4" lengthAdjust="spacingAndGlyphs" stroke="#000" stroke-width="0.25">S035</text>
<line x1="321" y1="349" x2="344" y2="346.4" stroke="#45A045" stroke-width="0.7" stroke-dasharray="1.1 0.9"/>
<line x1="344" y1="346.4" x2="367.4" y2="346.2" stroke="#45A045" stroke-width="0.7" stroke-dasharray="1.1 0.9"/>
<line x1="321" y1="287.4" x2="344" y2="285.8" stroke="#FF5C5C" stroke-width="0.7" stroke-dasharray="1.1 0.9"/>
<line x1="344" y1="285.8" x2="367.4" y2="287.9" stroke="#FF5C5C" stroke-width="0.7" stroke-dasharray="1.1 0.9"/>
<circle cx="321" cy="287.4" r="1.35" fill="#D00000" stroke="#8a0000" stroke-width="0.35"/>
<circle cx="344" cy="285.8" r="1.35" fill="#D00000" stroke="#8a0000" stroke-width="0.35"/>
<circle cx="367.4" cy="287.9" r="1.35" fill="#D00000" stroke="#8a0000" stroke-width="0.35"/>
<circle cx="321" cy="349" r="1.35" fill="#087808" stroke="#034003" stroke-width="0.35"/>
<circle cx="344" cy="346.4" r="1.35" fill="#087808" stroke="#034003" stroke-width="0.35"/>
<circle cx="367.4" cy="346.2" r="1.35" fill="#087808" stroke="#034003" stroke-width="0.35"/>
<text x="310.4" y="250.8" font-size="9" font-weight="bold" font-family="Liberation Serif, serif" fill="#000" textLength="20.4" lengthAdjust="spacingAndGlyphs" stroke="#000" stroke-width="0.25">S036</text>
<line x1="390.9" y1="346.2" x2="413.9" y2="350.6" stroke="#45A045" stroke-width="0.7"/>
<line x1="413.9" y1="350.6" x2="437.3" y2="347.5" stroke="#45A045" stroke-width="0.7"/>
<line x1="390.9" y1="306.1" x2="413.9" y2="271" stroke="#FF5C5C" stroke-width="0.7"/>
<line x1="413.9" y1="271" x2="437.3" y2="286.6" stroke="#FF5C5C" stroke-width="0.7"/>
<circle cx="390.9" cy="306.1" r="1.35" fill="#D00000" stroke="#8a0000" stroke-width="0.35"/>
<circle cx="413.9" cy="271" r="1.35" fill="#D00000" stroke="#8a0000" stroke-width="0.35"/>
<circle cx="437.3" cy="286.6" r="1.35" fill="#D00000" stroke="#8a0000" stroke-width="0.35"/>
<circle cx="390.9" cy="346.2" r="1.35" fill="#087808" stroke="#034003" stroke-width="0.35"/>
<circle cx="413.9" cy="350.6" r="1.35" fill="#087808" stroke="#034003" stroke-width="0.35"/>
<circle cx="437.3" cy="347.5" r="1.35" fill="#087808" stroke="#034003" stroke-width="0.35"/>
<text x="380.3" y="250.8" font-size="9" font-weight="bold" font-family="Liberation Serif, serif" fill="#000" textLength="20.4" lengthAdjust="spacingAndGlyphs" stroke="#000" stroke-width="0.25">S039</text>
<line x1="460.2" y1="332.1" x2="483.2" y2="350.8" stroke="#45A045" stroke-width="0.7"/>
<line x1="483.2" y1="350.8" x2="506.6" y2="349.3" stroke="#45A045" stroke-width="0.7"/>
<line x1="460.2" y1="332.9" x2="483.2" y2="264.8" stroke="#FF5C5C" stroke-width="0.7"/>
<line x1="483.2" y1="264.8" x2="506.6" y2="274.9" stroke="#FF5C5C" stroke-width="0.7"/>
<circle cx="460.2" cy="332.9" r="1.35" fill="#D00000" stroke="#8a0000" stroke-width="0.35"/>
<circle cx="483.2" cy="264.8" r="1.35" fill="#D00000" stroke="#8a0000" stroke-width="0.35"/>
<circle cx="506.6" cy="274.9" r="1.35" fill="#D00000" stroke="#8a0000" stroke-width="0.35"/>
<circle cx="460.2" cy="332.1" r="1.35" fill="#087808" stroke="#034003" stroke-width="0.35"/>
<circle cx="483.2" cy="350.8" r="1.35" fill="#087808" stroke="#034003" stroke-width="0.35"/>
<circle cx="506.6" cy="349.3" r="1.35" fill="#087808" stroke="#034003" stroke-width="0.35"/>
<text x="449.6" y="250.8" font-size="9" font-weight="bold" font-family="Liberation Serif, serif" fill="#000" textLength="20.4" lengthAdjust="spacingAndGlyphs" stroke="#000" stroke-width="0.25">S018</text>
<line x1="530" y1="343.8" x2="553" y2="339.4" stroke="#45A045" stroke-width="0.7"/>
<line x1="553" y1="339.4" x2="576.4" y2="343.3" stroke="#45A045" stroke-width="0.7"/>
<line x1="530" y1="303.8" x2="553" y2="322.5" stroke="#FF5C5C" stroke-width="0.7"/>
<line x1="553" y1="322.5" x2="576.4" y2="314.2" stroke="#FF5C5C" stroke-width="0.7"/>
<circle cx="530" cy="303.8" r="1.35" fill="#D00000" stroke="#8a0000" stroke-width="0.35"/>
<circle cx="553" cy="322.5" r="1.35" fill="#D00000" stroke="#8a0000" stroke-width="0.35"/>
<circle cx="576.4" cy="314.2" r="1.35" fill="#D00000" stroke="#8a0000" stroke-width="0.35"/>
<circle cx="530" cy="343.8" r="1.35" fill="#087808" stroke="#034003" stroke-width="0.35"/>
<circle cx="553" cy="339.4" r="1.35" fill="#087808" stroke="#034003" stroke-width="0.35"/>
<circle cx="576.4" cy="343.3" r="1.35" fill="#087808" stroke="#034003" stroke-width="0.35"/>
<text x="519.4" y="250.8" font-size="9" font-weight="bold" font-family="Liberation Serif, serif" fill="#000" textLength="20.4" lengthAdjust="spacingAndGlyphs" stroke="#000" stroke-width="0.25">S001</text>
<line x1="599.8" y1="347.2" x2="622.8" y2="342" stroke="#45A045" stroke-width="0.7"/>
<line x1="622.8" y1="342" x2="646.2" y2="344.6" stroke="#45A045" stroke-width="0.7"/>
<line x1="599.8" y1="293.4" x2="622.8" y2="308.2" stroke="#FF5C5C" stroke-width="0.7"/>
<line x1="622.8" y1="308.2" x2="646.2" y2="299.4" stroke="#FF5C5C" stroke-width="0.7"/>
<circle cx="599.8" cy="293.4" r="1.35" fill="#D00000" stroke="#8a0000" stroke-width="0.35"/>
<circle cx="622.8" cy="308.2" r="1.35" fill="#D00000" stroke="#8a0000" stroke-width="0.35"/>
<circle cx="646.2" cy="299.4" r="1.35" fill="#D00000" stroke="#8a0000" stroke-width="0.35"/>
<circle cx="599.8" cy="347.2" r="1.35" fill="#087808" stroke="#034003" stroke-width="0.35"/>
<circle cx="622.8" cy="342" r="1.35" fill="#087808" stroke="#034003" stroke-width="0.35"/>
<circle cx="646.2" cy="344.6" r="1.35" fill="#087808" stroke="#034003" stroke-width="0.35"/>
<text x="589.2" y="250.8" font-size="9" font-weight="bold" font-family="Liberation Serif, serif" fill="#000" textLength="20.4" lengthAdjust="spacingAndGlyphs" stroke="#000" stroke-width="0.25">S011</text>
<text x="45.2" y="359.2" font-size="3.15" font-weight="bold" text-anchor="middle" fill="#111" textLength="16.42" lengthAdjust="spacingAndGlyphs">A44_S045</text>
<text x="65.25" y="359.2" font-size="3.15" font-weight="bold" text-anchor="middle" fill="#111" textLength="15.21" lengthAdjust="spacingAndGlyphs">J47_S045</text>
<text x="85.3" y="359.2" font-size="3.15" font-weight="bold" text-anchor="middle" fill="#111" textLength="16.65" lengthAdjust="spacingAndGlyphs">O47_S045</text>
<text x="114.97" y="359.2" font-size="3.15" font-weight="bold" text-anchor="middle" fill="#111" textLength="16.42" lengthAdjust="spacingAndGlyphs">A70_S048</text>
<text x="135.02" y="359.2" font-size="3.15" font-weight="bold" text-anchor="middle" fill="#111" textLength="15.21" lengthAdjust="spacingAndGlyphs">J45_S048</text>
<text x="155.07" y="359.2" font-size="3.15" font-weight="bold" text-anchor="middle" fill="#111" textLength="16.65" lengthAdjust="spacingAndGlyphs">O53_S048</text>
<text x="184.74" y="359.2" font-size="3.15" font-weight="bold" text-anchor="middle" fill="#111" textLength="16.42" lengthAdjust="spacingAndGlyphs">A69_S046</text>
<text x="204.79" y="359.2" font-size="3.15" font-weight="bold" text-anchor="middle" fill="#111" textLength="15.21" lengthAdjust="spacingAndGlyphs">J53_S046</text>
<text x="224.84" y="359.2" font-size="3.15" font-weight="bold" text-anchor="middle" fill="#111" textLength="16.65" lengthAdjust="spacingAndGlyphs">O69_S046</text>
<text x="254.51" y="359.2" font-size="3.15" font-weight="bold" text-anchor="middle" fill="#111" textLength="16.42" lengthAdjust="spacingAndGlyphs">A84_S035</text>
<text x="274.56" y="359.2" font-size="3.15" font-weight="bold" text-anchor="middle" fill="#111" textLength="15.21" lengthAdjust="spacingAndGlyphs">J40_S035</text>
<text x="294.61" y="359.2" font-size="3.15" font-weight="bold" text-anchor="middle" fill="#111" textLength="16.65" lengthAdjust="spacingAndGlyphs">O86_S035</text>
<text x="324.28" y="359.2" font-size="3.15" font-weight="bold" text-anchor="middle" fill="#111" textLength="16.42" lengthAdjust="spacingAndGlyphs">A38_S036</text>
<text x="344.33" y="359.2" font-size="3.15" font-weight="bold" text-anchor="middle" fill="#111" textLength="15.21" lengthAdjust="spacingAndGlyphs">J38_S036</text>
<text x="364.38" y="359.2" font-size="3.15" font-weight="bold" text-anchor="middle" fill="#111" textLength="16.65" lengthAdjust="spacingAndGlyphs">O84_S036</text>
<text x="394.05" y="359.2" font-size="3.15" font-weight="bold" text-anchor="middle" fill="#111" textLength="16.42" lengthAdjust="spacingAndGlyphs">A40_S039</text>
<text x="414.1" y="359.2" font-size="3.15" font-weight="bold" text-anchor="middle" fill="#111" textLength="15.21" lengthAdjust="spacingAndGlyphs">J43_S039</text>
<text x="434.15" y="359.2" font-size="3.15" font-weight="bold" text-anchor="middle" fill="#111" textLength="16.65" lengthAdjust="spacingAndGlyphs">O94_S039</text>
<text x="463.82" y="359.2" font-size="3.15" font-weight="bold" text-anchor="middle" fill="#111" textLength="16.42" lengthAdjust="spacingAndGlyphs">A39_S018</text>
<text x="483.87" y="359.2" font-size="3.15" font-weight="bold" text-anchor="middle" fill="#111" textLength="15.21" lengthAdjust="spacingAndGlyphs">J30_S018</text>
<text x="503.92" y="359.2" font-size="3.15" font-weight="bold" text-anchor="middle" fill="#111" textLength="18.73" lengthAdjust="spacingAndGlyphs">O105_S018</text>
<text x="533.59" y="359.2" font-size="3.15" font-weight="bold" text-anchor="middle" fill="#111" textLength="14.33" lengthAdjust="spacingAndGlyphs">A2_S001</text>
<text x="553.64" y="359.2" font-size="3.15" font-weight="bold" text-anchor="middle" fill="#111" textLength="13.13" lengthAdjust="spacingAndGlyphs">J8_S001</text>
<text x="573.69" y="359.2" font-size="3.15" font-weight="bold" text-anchor="middle" fill="#111" textLength="18.73" lengthAdjust="spacingAndGlyphs">O128_S001</text>
<text x="603.36" y="359.2" font-size="3.15" font-weight="bold" text-anchor="middle" fill="#111" textLength="16.42" lengthAdjust="spacingAndGlyphs">A20_S011</text>
<text x="623.41" y="359.2" font-size="3.15" font-weight="bold" text-anchor="middle" fill="#111" textLength="13.13" lengthAdjust="spacingAndGlyphs">J9_S011</text>
<text x="643.46" y="359.2" font-size="3.15" font-weight="bold" text-anchor="middle" fill="#111" textLength="18.73" lengthAdjust="spacingAndGlyphs">O126_S011</text>
<rect x="31.2" y="360.7" width="68.63" height="111.3" fill="none" stroke="#b8b8b8" stroke-width="0.9"/>
<rect x="101.43" y="360.7" width="68.03" height="111.3" fill="none" stroke="#b8b8b8" stroke-width="0.9"/>
<rect x="171.06" y="360.7" width="68.03" height="111.3" fill="none" stroke="#b8b8b8" stroke-width="0.9"/>
<rect x="240.69" y="360.7" width="68.03" height="111.3" fill="none" stroke="#b8b8b8" stroke-width="0.9"/>
<rect x="310.32" y="360.7" width="68.03" height="111.3" fill="none" stroke="#b8b8b8" stroke-width="0.9"/>
<rect x="379.95" y="360.7" width="68.03" height="111.3" fill="none" stroke="#b8b8b8" stroke-width="0.9"/>
<rect x="449.58" y="360.7" width="68.03" height="111.3" fill="none" stroke="#b8b8b8" stroke-width="0.9"/>
<rect x="519.21" y="360.7" width="68.03" height="111.3" fill="none" stroke="#b8b8b8" stroke-width="0.9"/>
<rect x="588.84" y="360.7" width="68.66" height="111.3" fill="none" stroke="#b8b8b8" stroke-width="0.9"/>
<text x="30" y="473.6" font-size="4.6" text-anchor="end" fill="#111" textLength="2.54" lengthAdjust="spacingAndGlyphs">0</text>
<line x1="29.7" y1="472" x2="31.2" y2="472" stroke="#888" stroke-width="0.6"/>
<text x="30" y="451.44" font-size="4.6" text-anchor="end" fill="#111" textLength="5.09" lengthAdjust="spacingAndGlyphs">20</text>
<line x1="29.7" y1="449.84" x2="31.2" y2="449.84" stroke="#888" stroke-width="0.6"/>
<text x="30" y="429.28" font-size="4.6" text-anchor="end" fill="#111" textLength="5.09" lengthAdjust="spacingAndGlyphs">40</text>
<line x1="29.7" y1="427.68" x2="31.2" y2="427.68" stroke="#888" stroke-width="0.6"/>
<text x="30" y="407.12" font-size="4.6" text-anchor="end" fill="#111" textLength="5.09" lengthAdjust="spacingAndGlyphs">60</text>
<line x1="29.7" y1="405.52" x2="31.2" y2="405.52" stroke="#888" stroke-width="0.6"/>
<text x="30" y="384.96" font-size="4.6" text-anchor="end" fill="#111" textLength="5.09" lengthAdjust="spacingAndGlyphs">80</text>
<line x1="29.7" y1="383.36" x2="31.2" y2="383.36" stroke="#888" stroke-width="0.6"/>
<text x="30" y="362.8" font-size="4.6" text-anchor="end" fill="#111" textLength="7.63" lengthAdjust="spacingAndGlyphs">100</text>
<line x1="29.7" y1="361.2" x2="31.2" y2="361.2" stroke="#888" stroke-width="0.6"/>
<text transform="translate(21.3,416.5) rotate(-90)" font-size="6.2" font-weight="bold" fill="#000" text-anchor="middle" textLength="79" lengthAdjust="spacingAndGlyphs">Relative Abundance (%)</text>
<rect x="36.2" y="361.2" width="18" height="3.9" fill="#00C896"/>
<rect x="36.2" y="365.1" width="18" height="1.9" fill="#A5A5A5"/>
<rect x="36.2" y="367" width="18" height="20.7" fill="#7EAEDF"/>
<rect x="36.2" y="387.7" width="18" height="19.5" fill="#7030A0"/>
<rect x="36.2" y="407.2" width="18" height="64.8" fill="#A5A5A5"/>
<text x="45.2" y="476.3" font-size="3.68" font-weight="bold" text-anchor="middle" fill="#111" textLength="15.5" lengthAdjust="spacingAndGlyphs">Autumn</text>
<line x1="45.2" y1="472" x2="45.2" y2="473.2" stroke="#888" stroke-width="0.5"/>
<rect x="56.25" y="361.2" width="18" height="4.9" fill="#00C896"/>
<rect x="56.25" y="366.1" width="18" height="0.9" fill="#CF6218"/>
<rect x="56.25" y="367" width="18" height="1.6" fill="#9999FF"/>
<rect x="56.25" y="368.6" width="18" height="0.9" fill="#BDBDBD"/>
<rect x="56.25" y="369.5" width="18" height="1.2" fill="#43682B"/>
<rect x="56.25" y="370.7" width="18" height="3.2" fill="#FF0000"/>
<rect x="56.25" y="373.9" width="18" height="3.1" fill="#2F5597"/>
<rect x="56.25" y="377" width="18" height="5.1" fill="#FF66CC"/>
<rect x="56.25" y="382.1" width="18" height="8.8" fill="#997300"/>
<rect x="56.25" y="390.9" width="18" height="15.7" fill="#333F50"/>
<rect x="56.25" y="406.6" width="18" height="16.7" fill="#FFC000"/>
<rect x="56.25" y="423.3" width="18" height="18.7" fill="#9E480E"/>
<rect x="56.25" y="442" width="18" height="29.1" fill="#5B9BD5"/>
<rect x="56.25" y="471.1" width="18" height="0.9" fill="#7030A0"/>
<text x="65.25" y="476.3" font-size="3.68" font-weight="bold" text-anchor="middle" fill="#111" textLength="13.33" lengthAdjust="spacingAndGlyphs">Winter</text>
<line x1="65.25" y1="472" x2="65.25" y2="473.2" stroke="#888" stroke-width="0.5"/>
<rect x="76.3" y="361.2" width="18" height="47.9" fill="#00C896"/>
<rect x="76.3" y="409.1" width="18" height="7.9" fill="#5A5A5A"/>
<rect x="76.3" y="417" width="18" height="22.8" fill="#5B9BD5"/>
<rect x="76.3" y="439.8" width="18" height="32.2" fill="#7030A0"/>
<text x="85.3" y="476.3" font-size="3.68" font-weight="bold" text-anchor="middle" fill="#111" textLength="12.95" lengthAdjust="spacingAndGlyphs">Spring</text>
<line x1="85.3" y1="472" x2="85.3" y2="473.2" stroke="#888" stroke-width="0.5"/>
<rect x="105.97" y="361.2" width="18" height="9.9" fill="#00C896"/>
<rect x="105.97" y="371.1" width="18" height="2.8" fill="#CF6218"/>
<rect x="105.97" y="373.9" width="18" height="2.2" fill="#FF66CC"/>
<rect x="105.97" y="376.1" width="18" height="3.4" fill="#997300"/>
<rect x="105.97" y="379.5" width="18" height="1.9" fill="#2F5597"/>
<rect x="105.97" y="381.4" width="18" height="9.5" fill="#7EAEDF"/>
<rect x="105.97" y="390.9" width="18" height="81.1" fill="#A5A5A5"/>
<text x="114.97" y="476.3" font-size="3.68" font-weight="bold" text-anchor="middle" fill="#111" textLength="15.5" lengthAdjust="spacingAndGlyphs">Autumn</text>
<line x1="114.97" y1="472" x2="114.97" y2="473.2" stroke="#888" stroke-width="0.5"/>
<rect x="126.02" y="361.2" width="18" height="5.8" fill="#00C896"/>
<rect x="126.02" y="367" width="18" height="1.2" fill="#9E480E"/>
<rect x="126.02" y="368.2" width="18" height="1.9" fill="#9999FF"/>
<rect x="126.02" y="370.1" width="18" height="1.9" fill="#FF66CC"/>
<rect x="126.02" y="372" width="18" height="3.8" fill="#997300"/>
<rect x="126.02" y="375.8" width="18" height="3.1" fill="#BDBDBD"/>
<rect x="126.02" y="378.9" width="18" height="7.6" fill="#9E480E"/>
<rect x="126.02" y="386.5" width="18" height="55.1" fill="#2F5597"/>
<rect x="126.02" y="441.6" width="18" height="29.3" fill="#5B9BD5"/>
<rect x="126.02" y="470.9" width="18" height="1.1" fill="#A5A5A5"/>
<text x="135.02" y="476.3" font-size="3.68" font-weight="bold" text-anchor="middle" fill="#111" textLength="13.33" lengthAdjust="spacingAndGlyphs">Winter</text>
<line x1="135.02" y1="472" x2="135.02" y2="473.2" stroke="#888" stroke-width="0.5"/>
<rect x="146.07" y="361.2" width="18" height="14.6" fill="#00C896"/>
<rect x="146.07" y="375.8" width="18" height="3.1" fill="#F0A060"/>
<rect x="146.07" y="378.9" width="18" height="4" fill="#FF0000"/>
<rect x="146.07" y="382.9" width="18" height="2.9" fill="#43682B"/>
<rect x="146.07" y="385.8" width="18" height="5.9" fill="#FFC000"/>
<rect x="146.07" y="391.7" width="18" height="4.8" fill="#9999FF"/>
<rect x="146.07" y="396.5" width="18" height="6.3" fill="#333F50"/>
<rect x="146.07" y="402.8" width="18" height="1.9" fill="#FF66CC"/>
<rect x="146.07" y="404.7" width="18" height="4.2" fill="#997300"/>
<rect x="146.07" y="408.9" width="18" height="15.8" fill="#BDBDBD"/>
<rect x="146.07" y="424.7" width="18" height="8.1" fill="#9E480E"/>
<rect x="146.07" y="432.8" width="18" height="39.2" fill="#5B9BD5"/>
<text x="155.07" y="476.3" font-size="3.68" font-weight="bold" text-anchor="middle" fill="#111" textLength="12.95" lengthAdjust="spacingAndGlyphs">Spring</text>
<line x1="155.07" y1="472" x2="155.07" y2="473.2" stroke="#888" stroke-width="0.5"/>
<rect x="175.74" y="361.2" width="18" height="7" fill="#00C896"/>
<rect x="175.74" y="368.2" width="18" height="0.6" fill="#F0A060"/>
<rect x="175.74" y="368.8" width="18" height="10.7" fill="#7EAEDF"/>
<rect x="175.74" y="379.5" width="18" height="8.5" fill="#2F5597"/>
<rect x="175.74" y="388" width="18" height="26.9" fill="#7030A0"/>
<rect x="175.74" y="414.9" width="18" height="57.1" fill="#A5A5A5"/>
<text x="184.74" y="476.3" font-size="3.68" font-weight="bold" text-anchor="middle" fill="#111" textLength="15.5" lengthAdjust="spacingAndGlyphs">Autumn</text>
<line x1="184.74" y1="472" x2="184.74" y2="473.2" stroke="#888" stroke-width="0.5"/>
<rect x="195.79" y="361.2" width="18" height="14.6" fill="#00C896"/>
<rect x="195.79" y="375.8" width="18" height="1.9" fill="#FF0000"/>
<rect x="195.79" y="377.7" width="18" height="1.8" fill="#FF66CC"/>
<rect x="195.79" y="379.5" width="18" height="1.9" fill="#CF6218"/>
<rect x="195.79" y="381.4" width="18" height="1.5" fill="#9999FF"/>
<rect x="195.79" y="382.9" width="18" height="2.1" fill="#43682B"/>
<rect x="195.79" y="385" width="18" height="4.2" fill="#BDBDBD"/>
<rect x="195.79" y="389.2" width="18" height="8.8" fill="#F0A060"/>
<rect x="195.79" y="398" width="18" height="4.2" fill="#9E480E"/>
<rect x="195.79" y="402.2" width="18" height="5" fill="#FFC000"/>
<rect x="195.79" y="407.2" width="18" height="7.7" fill="#997300"/>
<rect x="195.79" y="414.9" width="18" height="6.3" fill="#2F5597"/>
<rect x="195.79" y="421.2" width="18" height="50.8" fill="#5B9BD5"/>
<text x="204.79" y="476.3" font-size="3.68" font-weight="bold" text-anchor="middle" fill="#111" textLength="13.33" lengthAdjust="spacingAndGlyphs">Winter</text>
<line x1="204.79" y1="472" x2="204.79" y2="473.2" stroke="#888" stroke-width="0.5"/>
<rect x="215.84" y="361.2" width="18" height="12" fill="#00C896"/>
<rect x="215.84" y="373.2" width="18" height="2.6" fill="#5A5A5A"/>
<rect x="215.84" y="375.8" width="18" height="1.2" fill="#FF66CC"/>
<rect x="215.84" y="377" width="18" height="1.9" fill="#6A8ED6"/>
<rect x="215.84" y="378.9" width="18" height="1.3" fill="#CF6218"/>
<rect x="215.84" y="380.2" width="18" height="3.5" fill="#9999FF"/>
<rect x="215.84" y="383.7" width="18" height="2.1" fill="#43682B"/>
<rect x="215.84" y="385.8" width="18" height="6.7" fill="#BDBDBD"/>
<rect x="215.84" y="392.5" width="18" height="8.4" fill="#9E480E"/>
<rect x="215.84" y="400.9" width="18" height="8.2" fill="#FFC000"/>
<rect x="215.84" y="409.1" width="18" height="14" fill="#997300"/>
<rect x="215.84" y="423.1" width="18" height="48.9" fill="#5B9BD5"/>
<text x="224.84" y="476.3" font-size="3.68" font-weight="bold" text-anchor="middle" fill="#111" textLength="12.95" lengthAdjust="spacingAndGlyphs">Spring</text>
<line x1="224.84" y1="472" x2="224.84" y2="473.2" stroke="#888" stroke-width="0.5"/>
<rect x="245.51" y="361.2" width="18" height="17.1" fill="#00C896"/>
<rect x="245.51" y="378.3" width="18" height="1.6" fill="#7030A0"/>
<rect x="245.51" y="379.9" width="18" height="1.5" fill="#F0A060"/>
<rect x="245.51" y="381.4" width="18" height="2.8" fill="#2F5597"/>
<rect x="245.51" y="384.2" width="18" height="33.9" fill="#FF0000"/>
<rect x="245.51" y="418.1" width="18" height="10.2" fill="#5B9BD5"/>
<rect x="245.51" y="428.3" width="18" height="43.7" fill="#A5A5A5"/>
<text x="254.51" y="476.3" font-size="3.68" font-weight="bold" text-anchor="middle" fill="#111" textLength="15.5" lengthAdjust="spacingAndGlyphs">Autumn</text>
<line x1="254.51" y1="472" x2="254.51" y2="473.2" stroke="#888" stroke-width="0.5"/>
<rect x="265.56" y="361.2" width="18" height="8.3" fill="#00C896"/>
<rect x="265.56" y="369.5" width="18" height="1.9" fill="#70AD47"/>
<rect x="265.56" y="371.4" width="18" height="2.2" fill="#FF66CC"/>
<rect x="265.56" y="373.6" width="18" height="1.5" fill="#CF6218"/>
<rect x="265.56" y="375.1" width="18" height="1.3" fill="#7EAEDF"/>
<rect x="265.56" y="376.4" width="18" height="2.3" fill="#BDBDBD"/>
<rect x="265.56" y="378.7" width="18" height="3.4" fill="#9E480E"/>
<rect x="265.56" y="382.1" width="18" height="8.4" fill="#9999FF"/>
<rect x="265.56" y="390.5" width="18" height="11.3" fill="#997300"/>
<rect x="265.56" y="401.8" width="18" height="11.5" fill="#43682B"/>
<rect x="265.56" y="413.3" width="18" height="19.2" fill="#2F5597"/>
<rect x="265.56" y="432.5" width="18" height="25.5" fill="#FFC000"/>
<rect x="265.56" y="458" width="18" height="1.9" fill="#FF0000"/>
<rect x="265.56" y="459.9" width="18" height="12.1" fill="#5B9BD5"/>
<text x="274.56" y="476.3" font-size="3.68" font-weight="bold" text-anchor="middle" fill="#111" textLength="13.33" lengthAdjust="spacingAndGlyphs">Winter</text>
<line x1="274.56" y1="472" x2="274.56" y2="473.2" stroke="#888" stroke-width="0.5"/>
<rect x="285.61" y="361.2" width="18" height="6.1" fill="#00C896"/>
<rect x="285.61" y="367.3" width="18" height="1.3" fill="#5A5A5A"/>
<rect x="285.61" y="368.6" width="18" height="3.4" fill="#FF66CC"/>
<rect x="285.61" y="372" width="18" height="4.1" fill="#333F50"/>
<rect x="285.61" y="376.1" width="18" height="0.9" fill="#CF6218"/>
<rect x="285.61" y="377" width="18" height="4.7" fill="#6A8ED6"/>
<rect x="285.61" y="381.7" width="18" height="2.9" fill="#BDBDBD"/>
<rect x="285.61" y="384.6" width="18" height="4.4" fill="#9E480E"/>
<rect x="285.61" y="389" width="18" height="6.3" fill="#997300"/>
<rect x="285.61" y="395.3" width="18" height="11.5" fill="#43682B"/>
<rect x="285.61" y="406.8" width="18" height="14.2" fill="#FFC000"/>
<rect x="285.61" y="421" width="18" height="1.6" fill="#FF0000"/>
<rect x="285.61" y="422.6" width="18" height="49.4" fill="#5B9BD5"/>
<text x="294.61" y="476.3" font-size="3.68" font-weight="bold" text-anchor="middle" fill="#111" textLength="12.95" lengthAdjust="spacingAndGlyphs">Spring</text>
<line x1="294.61" y1="472" x2="294.61" y2="473.2" stroke="#888" stroke-width="0.5"/>
<rect x="315.28" y="361.2" width="18" height="16.4" fill="#00C896"/>
<rect x="315.28" y="377.6" width="18" height="2.3" fill="#BDBDBD"/>
<rect x="315.28" y="379.9" width="18" height="1.8" fill="#CF6218"/>
<rect x="315.28" y="381.7" width="18" height="6.3" fill="#FF0000"/>
<rect x="315.28" y="388" width="18" height="7" fill="#FF66CC"/>
<rect x="315.28" y="395" width="18" height="7.8" fill="#333F50"/>
<rect x="315.28" y="402.8" width="18" height="7.3" fill="#43682B"/>
<rect x="315.28" y="410.1" width="18" height="4.8" fill="#9E480E"/>
<rect x="315.28" y="414.9" width="18" height="2.8" fill="#FFC000"/>
<rect x="315.28" y="417.7" width="18" height="54.3" fill="#5B9BD5"/>
<text x="324.28" y="476.3" font-size="3.68" font-weight="bold" text-anchor="middle" fill="#111" textLength="15.5" lengthAdjust="spacingAndGlyphs">Autumn</text>
<line x1="324.28" y1="472" x2="324.28" y2="473.2" stroke="#888" stroke-width="0.5"/>
<rect x="335.33" y="361.2" width="18" height="8.3" fill="#00C896"/>
<rect x="335.33" y="369.5" width="18" height="1.2" fill="#F0A060"/>
<rect x="335.33" y="370.7" width="18" height="4.2" fill="#BDBDBD"/>
<rect x="335.33" y="374.9" width="18" height="6.3" fill="#F0A060"/>
<rect x="335.33" y="381.2" width="18" height="1.7" fill="#FF0000"/>
<rect x="335.33" y="382.9" width="18" height="2.6" fill="#43682B"/>
<rect x="335.33" y="385.5" width="18" height="10" fill="#6A8ED6"/>
<rect x="335.33" y="395.5" width="18" height="2.9" fill="#FF66CC"/>
<rect x="335.33" y="398.4" width="18" height="3.4" fill="#333F50"/>
<rect x="335.33" y="401.8" width="18" height="4.2" fill="#43682B"/>
<rect x="335.33" y="406" width="18" height="7.7" fill="#9E480E"/>
<rect x="335.33" y="413.7" width="18" height="4.4" fill="#FFC000"/>
<rect x="335.33" y="418.1" width="18" height="53.9" fill="#5B9BD5"/>
<text x="344.33" y="476.3" font-size="3.68" font-weight="bold" text-anchor="middle" fill="#111" textLength="13.33" lengthAdjust="spacingAndGlyphs">Winter</text>
<line x1="344.33" y1="472" x2="344.33" y2="473.2" stroke="#888" stroke-width="0.5"/>
<rect x="355.38" y="361.2" width="18" height="5.8" fill="#00C896"/>
<rect x="355.38" y="367" width="18" height="2.5" fill="#43682B"/>
<rect x="355.38" y="369.5" width="18" height="8.8" fill="#9999FF"/>
<rect x="355.38" y="378.3" width="18" height="9.2" fill="#997300"/>
<rect x="355.38" y="387.5" width="18" height="4" fill="#FF66CC"/>
<rect x="355.38" y="391.5" width="18" height="1.5" fill="#333F50"/>
<rect x="355.38" y="393" width="18" height="7" fill="#43682B"/>
<rect x="355.38" y="400" width="18" height="9.7" fill="#9E480E"/>
<rect x="355.38" y="409.7" width="18" height="32.6" fill="#FFC000"/>
<rect x="355.38" y="442.3" width="18" height="29.7" fill="#5B9BD5"/>
<text x="364.38" y="476.3" font-size="3.68" font-weight="bold" text-anchor="middle" fill="#111" textLength="12.95" lengthAdjust="spacingAndGlyphs">Spring</text>
<line x1="364.38" y1="472" x2="364.38" y2="473.2" stroke="#888" stroke-width="0.5"/>
<rect x="385.05" y="361.2" width="18" height="3.9" fill="#00C896"/>
<rect x="385.05" y="365.1" width="18" height="9.8" fill="#A5A5A5"/>
<rect x="385.05" y="374.9" width="18" height="31.1" fill="#7030A0"/>
<rect x="385.05" y="406" width="18" height="38.1" fill="#FF0000"/>
<rect x="385.05" y="444.1" width="18" height="27.9" fill="#5B9BD5"/>
<text x="394.05" y="476.3" font-size="3.68" font-weight="bold" text-anchor="middle" fill="#111" textLength="15.5" lengthAdjust="spacingAndGlyphs">Autumn</text>
<line x1="394.05" y1="472" x2="394.05" y2="473.2" stroke="#888" stroke-width="0.5"/>
<rect x="405.1" y="361.2" width="18" height="14.6" fill="#00C896"/>
<rect x="405.1" y="375.8" width="18" height="1.2" fill="#CF6218"/>
<rect x="405.1" y="377" width="18" height="2.9" fill="#F0A060"/>
<rect x="405.1" y="379.9" width="18" height="3" fill="#9999FF"/>
<rect x="405.1" y="382.9" width="18" height="2.9" fill="#997300"/>
<rect x="405.1" y="385.8" width="18" height="5.1" fill="#9E480E"/>
<rect x="405.1" y="390.9" width="18" height="3.1" fill="#FF66CC"/>
<rect x="405.1" y="394" width="18" height="5.7" fill="#BDBDBD"/>
<rect x="405.1" y="399.7" width="18" height="3.1" fill="#333F50"/>
<rect x="405.1" y="402.8" width="18" height="6.3" fill="#FFC000"/>
<rect x="405.1" y="409.1" width="18" height="0.6" fill="#BDBDBD"/>
<rect x="405.1" y="409.7" width="18" height="7.3" fill="#43682B"/>
<rect x="405.1" y="417" width="18" height="21.8" fill="#2F5597"/>
<rect x="405.1" y="438.8" width="18" height="1.4" fill="#FF0000"/>
<rect x="405.1" y="440.2" width="18" height="31.8" fill="#5B9BD5"/>
<text x="414.1" y="476.3" font-size="3.68" font-weight="bold" text-anchor="middle" fill="#111" textLength="13.33" lengthAdjust="spacingAndGlyphs">Winter</text>
<line x1="414.1" y1="472" x2="414.1" y2="473.2" stroke="#888" stroke-width="0.5"/>
<rect x="425.15" y="361.2" width="18" height="4.9" fill="#00C896"/>
<rect x="425.15" y="366.1" width="18" height="0.9" fill="#997300"/>
<rect x="425.15" y="367" width="18" height="3.1" fill="#70AD47"/>
<rect x="425.15" y="370.1" width="18" height="2.8" fill="#6A8ED6"/>
<rect x="425.15" y="372.9" width="18" height="2" fill="#F0A060"/>
<rect x="425.15" y="374.9" width="18" height="4" fill="#997300"/>
<rect x="425.15" y="378.9" width="18" height="5.3" fill="#FF66CC"/>
<rect x="425.15" y="384.2" width="18" height="2" fill="#BDBDBD"/>
<rect x="425.15" y="386.2" width="18" height="11" fill="#333F50"/>
<rect x="425.15" y="397.2" width="18" height="8.8" fill="#FFC000"/>
<rect x="425.15" y="406" width="18" height="13.1" fill="#43682B"/>
<rect x="425.15" y="419.1" width="18" height="4.7" fill="#FF0000"/>
<rect x="425.15" y="423.8" width="18" height="48.2" fill="#5B9BD5"/>
<text x="434.15" y="476.3" font-size="3.68" font-weight="bold" text-anchor="middle" fill="#111" textLength="12.95" lengthAdjust="spacingAndGlyphs">Spring</text>
<line x1="434.15" y1="472" x2="434.15" y2="473.2" stroke="#888" stroke-width="0.5"/>
<rect x="454.82" y="361.2" width="18" height="19" fill="#00C896"/>
<rect x="454.82" y="380.2" width="18" height="3.1" fill="#6A8ED6"/>
<rect x="454.82" y="383.3" width="18" height="2.5" fill="#9999FF"/>
<rect x="454.82" y="385.8" width="18" height="2.5" fill="#BDBDBD"/>
<rect x="454.82" y="388.3" width="18" height="0.7" fill="#FF0000"/>
<rect x="454.82" y="389" width="18" height="3.1" fill="#FF66CC"/>
<rect x="454.82" y="392.1" width="18" height="2.9" fill="#333F50"/>
<rect x="454.82" y="395" width="18" height="8.4" fill="#997300"/>
<rect x="454.82" y="403.4" width="18" height="2.6" fill="#FF0000"/>
<rect x="454.82" y="406" width="18" height="10.7" fill="#43682B"/>
<rect x="454.82" y="416.7" width="18" height="12.3" fill="#FFC000"/>
<rect x="454.82" y="429" width="18" height="43" fill="#5B9BD5"/>
<text x="463.82" y="476.3" font-size="3.68" font-weight="bold" text-anchor="middle" fill="#111" textLength="15.5" lengthAdjust="spacingAndGlyphs">Autumn</text>
<line x1="463.82" y1="472" x2="463.82" y2="473.2" stroke="#888" stroke-width="0.5"/>
<rect x="474.87" y="361.2" width="18" height="0.7" fill="#00C896"/>
<rect x="474.87" y="361.9" width="18" height="4.2" fill="#7EAEDF"/>
<rect x="474.87" y="366.1" width="18" height="3.7" fill="#5A5A5A"/>
<rect x="474.87" y="369.8" width="18" height="9.4" fill="#FF0000"/>
<rect x="474.87" y="379.2" width="18" height="92.8" fill="#7030A0"/>
<text x="483.87" y="476.3" font-size="3.68" font-weight="bold" text-anchor="middle" fill="#111" textLength="13.33" lengthAdjust="spacingAndGlyphs">Winter</text>
<line x1="483.87" y1="472" x2="483.87" y2="473.2" stroke="#888" stroke-width="0.5"/>
<rect x="494.92" y="361.2" width="18" height="26.8" fill="#00C896"/>
<rect x="494.92" y="388" width="18" height="2.5" fill="#BDBDBD"/>
<rect x="494.92" y="390.5" width="18" height="9.5" fill="#CF6218"/>
<rect x="494.92" y="400" width="18" height="4.1" fill="#FF66CC"/>
<rect x="494.92" y="404.1" width="18" height="7" fill="#333F50"/>
<rect x="494.92" y="411.1" width="18" height="13.6" fill="#9E480E"/>
<rect x="494.92" y="424.7" width="18" height="5.7" fill="#997300"/>
<rect x="494.92" y="430.4" width="18" height="2.4" fill="#43682B"/>
<rect x="494.92" y="432.8" width="18" height="6" fill="#FFC000"/>
<rect x="494.92" y="438.8" width="18" height="33.2" fill="#5B9BD5"/>
<text x="503.92" y="476.3" font-size="3.68" font-weight="bold" text-anchor="middle" fill="#111" textLength="12.95" lengthAdjust="spacingAndGlyphs">Spring</text>
<line x1="503.92" y1="472" x2="503.92" y2="473.2" stroke="#888" stroke-width="0.5"/>
<rect x="524.59" y="361.2" width="18" height="2.6" fill="#00C896"/>
<rect x="524.59" y="363.8" width="18" height="3.2" fill="#7EAEDF"/>
<rect x="524.59" y="367" width="18" height="1.2" fill="#2F5597"/>
<rect x="524.59" y="368.2" width="18" height="29" fill="#A5A5A5"/>
<rect x="524.59" y="397.2" width="18" height="57.7" fill="#5B9BD5"/>
<rect x="524.59" y="454.9" width="18" height="17.1" fill="#7030A0"/>
<text x="533.59" y="476.3" font-size="3.68" font-weight="bold" text-anchor="middle" fill="#111" textLength="15.5" lengthAdjust="spacingAndGlyphs">Autumn</text>
<line x1="533.59" y1="472" x2="533.59" y2="473.2" stroke="#888" stroke-width="0.5"/>
<rect x="544.64" y="361.2" width="18" height="0.7" fill="#00C896"/>
<rect x="544.64" y="361.9" width="18" height="7.9" fill="#FF0000"/>
<rect x="544.64" y="369.8" width="18" height="2.8" fill="#7EAEDF"/>
<rect x="544.64" y="372.6" width="18" height="25.2" fill="#2F5597"/>
<rect x="544.64" y="397.8" width="18" height="1" fill="#BDBDBD"/>
<rect x="544.64" y="398.8" width="18" height="73.2" fill="#7030A0"/>
<text x="553.64" y="476.3" font-size="3.68" font-weight="bold" text-anchor="middle" fill="#111" textLength="13.33" lengthAdjust="spacingAndGlyphs">Winter</text>
<line x1="553.64" y1="472" x2="553.64" y2="473.2" stroke="#888" stroke-width="0.5"/>
<rect x="564.69" y="361.2" width="18" height="5.4" fill="#00C896"/>
<rect x="564.69" y="366.6" width="18" height="2" fill="#F0A060"/>
<rect x="564.69" y="368.6" width="18" height="12.2" fill="#5A5A5A"/>
<rect x="564.69" y="380.8" width="18" height="1.9" fill="#FF0000"/>
<rect x="564.69" y="382.7" width="18" height="27" fill="#7EAEDF"/>
<rect x="564.69" y="409.7" width="18" height="4.5" fill="#5B9BD5"/>
<rect x="564.69" y="414.2" width="18" height="57.8" fill="#7030A0"/>
<text x="573.69" y="476.3" font-size="3.68" font-weight="bold" text-anchor="middle" fill="#111" textLength="12.95" lengthAdjust="spacingAndGlyphs">Spring</text>
<line x1="573.69" y1="472" x2="573.69" y2="473.2" stroke="#888" stroke-width="0.5"/>
<rect x="594.36" y="361.2" width="18" height="4.9" fill="#00C896"/>
<rect x="594.36" y="366.1" width="18" height="0.9" fill="#F0A060"/>
<rect x="594.36" y="367" width="18" height="1.8" fill="#BDBDBD"/>
<rect x="594.36" y="368.8" width="18" height="3.2" fill="#333F50"/>
<rect x="594.36" y="372" width="18" height="3.8" fill="#FF66CC"/>
<rect x="594.36" y="375.8" width="18" height="3.7" fill="#43682B"/>
<rect x="594.36" y="379.5" width="18" height="2.2" fill="#997300"/>
<rect x="594.36" y="381.7" width="18" height="1.2" fill="#A5A5A5"/>
<rect x="594.36" y="382.9" width="18" height="16.8" fill="#9E480E"/>
<rect x="594.36" y="399.7" width="18" height="28.3" fill="#FFC000"/>
<rect x="594.36" y="428" width="18" height="44" fill="#5B9BD5"/>
<text x="603.36" y="476.3" font-size="3.68" font-weight="bold" text-anchor="middle" fill="#111" textLength="15.5" lengthAdjust="spacingAndGlyphs">Autumn</text>
<line x1="603.36" y1="472" x2="603.36" y2="473.2" stroke="#888" stroke-width="0.5"/>
<rect x="614.41" y="361.2" width="18" height="5.1" fill="#00C896"/>
<rect x="614.41" y="366.3" width="18" height="1" fill="#997300"/>
<rect x="614.41" y="367.3" width="18" height="2.5" fill="#2F5597"/>
<rect x="614.41" y="369.8" width="18" height="2.2" fill="#FF0000"/>
<rect x="614.41" y="372" width="18" height="9.4" fill="#7EAEDF"/>
<rect x="614.41" y="381.4" width="18" height="22" fill="#A5A5A5"/>
<rect x="614.41" y="403.4" width="18" height="1.3" fill="#9E480E"/>
<rect x="614.41" y="404.7" width="18" height="67.3" fill="#7030A0"/>
<text x="623.41" y="476.3" font-size="3.68" font-weight="bold" text-anchor="middle" fill="#111" textLength="13.33" lengthAdjust="spacingAndGlyphs">Winter</text>
<line x1="623.41" y1="472" x2="623.41" y2="473.2" stroke="#888" stroke-width="0.5"/>
<rect x="634.46" y="361.2" width="18" height="2.9" fill="#00C896"/>
<rect x="634.46" y="364.1" width="18" height="1" fill="#9999FF"/>
<rect x="634.46" y="365.1" width="18" height="1.2" fill="#F0A060"/>
<rect x="634.46" y="366.3" width="18" height="1.5" fill="#BDBDBD"/>
<rect x="634.46" y="367.8" width="18" height="2.6" fill="#FF0000"/>
<rect x="634.46" y="370.4" width="18" height="7.5" fill="#6A8ED6"/>
<rect x="634.46" y="377.9" width="18" height="4.2" fill="#43682B"/>
<rect x="634.46" y="382.1" width="18" height="10.7" fill="#997300"/>
<rect x="634.46" y="392.8" width="18" height="4" fill="#9E480E"/>
<rect x="634.46" y="396.8" width="18" height="15.8" fill="#FFC000"/>
<rect x="634.46" y="412.6" width="18" height="59.4" fill="#5B9BD5"/>
<text x="643.46" y="476.3" font-size="3.68" font-weight="bold" text-anchor="middle" fill="#111" textLength="12.95" lengthAdjust="spacingAndGlyphs">Spring</text>
<line x1="643.46" y1="472" x2="643.46" y2="473.2" stroke="#888" stroke-width="0.5"/>
<text x="696.5" y="89.2" font-size="7.3" font-weight="bold" text-anchor="middle" fill="#000" textLength="59.99" lengthAdjust="spacingAndGlyphs">Alpha Diversity</text>
<text x="696.5" y="98" font-size="7.3" font-weight="bold" text-anchor="middle" fill="#000" textLength="27.86" lengthAdjust="spacingAndGlyphs">Indices</text>
<circle cx="670.4" cy="105.1" r="3.1" fill="#0A7F0A" stroke="#045004" stroke-width="0.4"/>
<circle cx="670.4" cy="115.4" r="3.1" fill="#F00000" stroke="#900000" stroke-width="0.4"/>
<text x="676.7" y="107.4" font-size="6.99" text-anchor="start" fill="#333" textLength="28.56" lengthAdjust="spacingAndGlyphs">Simpson</text>
<text x="676.7" y="117.7" font-size="6.99" text-anchor="start" fill="#333" textLength="29.27" lengthAdjust="spacingAndGlyphs">Shannon</text>
<text x="670.4" y="140.4" font-size="8.61" font-weight="bold" text-anchor="start" fill="#000" textLength="28.85" lengthAdjust="spacingAndGlyphs">Genus</text>
<rect x="663.1" y="144.3" width="13.6" height="4.4" fill="#5B9BD5"/>
<text x="677.5" y="148.8" font-size="6.99" text-anchor="start" fill="#1a1a1a" textLength="47.19" lengthAdjust="spacingAndGlyphs">Streptococcus</text>
<rect x="663.1" y="154.2" width="13.6" height="4.4" fill="#A5A5A5"/>
<text x="677.5" y="158.7" font-size="6.99" text-anchor="start" fill="#1a1a1a" textLength="24.97" lengthAdjust="spacingAndGlyphs">Proteus</text>
<rect x="663.1" y="164.2" width="13.6" height="4.4" fill="#7030A0"/>
<text x="677.5" y="168.7" font-size="6.99" text-anchor="start" fill="#1a1a1a" textLength="32.26" lengthAdjust="spacingAndGlyphs">Moraxella</text>
<rect x="663.1" y="174.3" width="13.6" height="4.4" fill="#FFC000"/>
<text x="677.5" y="178.8" font-size="6.99" text-anchor="start" fill="#1a1a1a" textLength="30.64" lengthAdjust="spacingAndGlyphs">Neisseria</text>
<rect x="663.1" y="184.1" width="13.6" height="4.4" fill="#FF0000"/>
<text x="677.5" y="188.6" font-size="6.99" text-anchor="start" fill="#1a1a1a" textLength="43.59" lengthAdjust="spacingAndGlyphs">Haemophilus</text>
<rect x="663.1" y="193.8" width="13.6" height="4.4" fill="#9E480E"/>
<text x="677.5" y="198.3" font-size="6.99" text-anchor="start" fill="#1a1a1a" textLength="52.05" lengthAdjust="spacingAndGlyphs">Haemophilus_D</text>
<rect x="663.1" y="204.1" width="13.6" height="4.4" fill="#2F5597"/>
<text x="677.5" y="208.6" font-size="6.99" text-anchor="start" fill="#1a1a1a" textLength="51.99" lengthAdjust="spacingAndGlyphs">Staphylococcus</text>
<rect x="663.1" y="213.9" width="13.6" height="4.4" fill="#333F50"/>
<text x="677.5" y="218.4" font-size="6.99" text-anchor="start" fill="#1a1a1a" textLength="51.98" lengthAdjust="spacingAndGlyphs">Porphyromonas</text>
<rect x="663.1" y="223.8" width="13.6" height="4.4" fill="#997300"/>
<text x="677.5" y="228.3" font-size="6.99" text-anchor="start" fill="#1a1a1a" textLength="21.17" lengthAdjust="spacingAndGlyphs">Rothia</text>
<rect x="663.1" y="233.6" width="13.6" height="4.4" fill="#43682B"/>
<text x="677.5" y="238.1" font-size="6.99" text-anchor="start" fill="#1a1a1a" textLength="27.63" lengthAdjust="spacingAndGlyphs">Gemella</text>
<rect x="663.1" y="243.5" width="13.6" height="4.4" fill="#FF66CC"/>
<text x="677.5" y="248" font-size="6.99" text-anchor="start" fill="#1a1a1a" textLength="46.36" lengthAdjust="spacingAndGlyphs">Granulicatella</text>
<rect x="663.1" y="253.1" width="13.6" height="4.4" fill="#70AD47"/>
<text x="677.5" y="257.6" font-size="6.99" text-anchor="start" fill="#1a1a1a" textLength="48.7" lengthAdjust="spacingAndGlyphs">Herbaspirillum</text>
<rect x="663.1" y="263.5" width="13.6" height="4.4" fill="#9999FF"/>
<text x="677.5" y="268" font-size="6.99" text-anchor="start" fill="#1a1a1a" textLength="31.45" lengthAdjust="spacingAndGlyphs">Lautropia</text>
<rect x="663.1" y="273.2" width="13.6" height="4.4" fill="#5A5A5A"/>
<text x="677.5" y="277.7" font-size="6.99" text-anchor="start" fill="#1a1a1a" textLength="53.93" lengthAdjust="spacingAndGlyphs">Phyllobacterium</text>
<rect x="663.1" y="283" width="13.6" height="4.4" fill="#6A8ED6"/>
<text x="677.5" y="287.5" font-size="6.99" text-anchor="start" fill="#1a1a1a" textLength="51.48" lengthAdjust="spacingAndGlyphs">Haemophilus_A</text>
<rect x="663.1" y="293.1" width="13.6" height="4.4" fill="#7EAEDF"/>
<text x="677.5" y="297.6" font-size="6.99" text-anchor="start" fill="#1a1a1a" textLength="52.5" lengthAdjust="spacingAndGlyphs">Dolosigranulum</text>
<rect x="663.1" y="302.9" width="13.6" height="4.4" fill="#BDBDBD"/>
<text x="677.5" y="307.4" font-size="6.99" text-anchor="start" fill="#1a1a1a" textLength="42.52" lengthAdjust="spacingAndGlyphs">Actinomyces</text>
<rect x="663.1" y="312.7" width="13.6" height="4.4" fill="#99CC00"/>
<text x="677.5" y="317.2" font-size="6.99" text-anchor="start" fill="#1a1a1a" textLength="36.59" lengthAdjust="spacingAndGlyphs">Tardiphaga</text>
<rect x="663.1" y="322.4" width="13.6" height="4.4" fill="#F0A060"/>
<text x="677.5" y="326.9" font-size="6.99" text-anchor="start" fill="#1a1a1a" textLength="57.7" lengthAdjust="spacingAndGlyphs">Corynebacterium</text>
<rect x="663.1" y="331.2" width="13.6" height="4.4" fill="#CF6218"/>
<text x="677.5" y="335.7" font-size="6.99" text-anchor="start" fill="#1a1a1a" textLength="33.1" lengthAdjust="spacingAndGlyphs">Prevotella</text>
<rect x="663.1" y="340" width="13.6" height="4.4" fill="#00C896"/>
<text x="677.5" y="344.5" font-size="6.99" text-anchor="start" fill="#1a1a1a" textLength="18.91" lengthAdjust="spacingAndGlyphs">Other</text>
</svg></body></html>
